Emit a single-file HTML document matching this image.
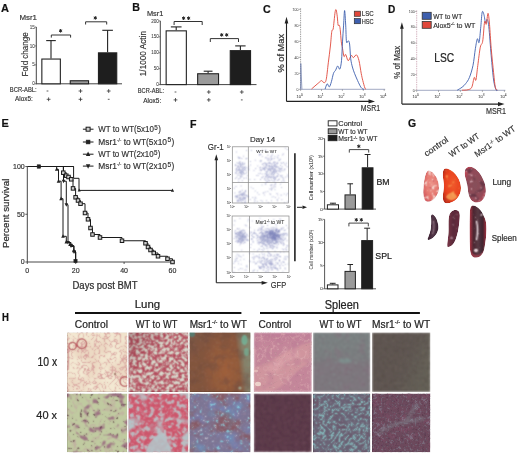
<!DOCTYPE html>
<html><head><meta charset="utf-8"><style>
html,body{margin:0;padding:0;background:#fff;}
svg{display:block;will-change:transform;}
text{font-family:"Liberation Sans", sans-serif;stroke:#2a2a2a;stroke-linejoin:round;}
</style></head><body>
<svg width="520" height="454" viewBox="0 0 520 454">
<defs><filter id="dotblur" x="-5%" y="-5%" width="110%" height="110%"><feConvolveMatrix order="3" kernelMatrix="1 2 1 2 5 2 1 2 1" edgeMode="none"/></filter>
<radialGradient id="lc" cx="0.55" cy="0.45" r="0.65"><stop offset="0" stop-color="#ec948a"/><stop offset="0.6" stop-color="#e4766e"/><stop offset="1" stop-color="#d45a60"/></radialGradient>
<radialGradient id="lw" cx="0.55" cy="0.45" r="0.65"><stop offset="0" stop-color="#f05a2c"/><stop offset="0.7" stop-color="#e8401e"/><stop offset="1" stop-color="#b82a1a"/></radialGradient>
<radialGradient id="lm" cx="0.5" cy="0.5" r="0.6"><stop offset="0" stop-color="#86505a"/><stop offset="0.7" stop-color="#924a58"/><stop offset="1" stop-color="#c84656"/></radialGradient>
<linearGradient id="sc" x1="0" y1="0" x2="1" y2="0"><stop offset="0" stop-color="#3a1e2e"/><stop offset="0.5" stop-color="#54384a"/><stop offset="1" stop-color="#3a2030"/></linearGradient>
<linearGradient id="sw" x1="0" y1="0" x2="1" y2="0"><stop offset="0" stop-color="#7a3446"/><stop offset="0.5" stop-color="#5a2a3a"/><stop offset="1" stop-color="#6a2c3e"/></linearGradient>
<linearGradient id="sm" x1="0" y1="0" x2="1" y2="0"><stop offset="0" stop-color="#b03545"/><stop offset="0.22" stop-color="#4a2530"/><stop offset="0.5" stop-color="#5a3a45"/><stop offset="0.78" stop-color="#3e2530"/><stop offset="1" stop-color="#a83040"/></linearGradient>
<clipPath id="og1"><path d="M428.5,170.5 C434,171 439.5,180 439,188 C438.5,196 433,201.5 428,201.8 C424,202 423,196 423.3,190 C423.6,183 425,171 428.5,170.5 Z"/></clipPath><filter id="b1" x="-5%" y="-5%" width="110%" height="110%"><feConvolveMatrix order="3" kernelMatrix="0.800 1.600 0.800 1.600 6.400 1.600 0.800 1.600 0.800" edgeMode="duplicate" preserveAlpha="true"/></filter><filter id="n2" x="0" y="0" width="1" height="1" filterUnits="objectBoundingBox" color-interpolation-filters="sRGB"><feTurbulence type="fractalNoise" baseFrequency="0.25" numOctaves="2" seed="201" result="t"/><feColorMatrix in="t" type="matrix" values="0 0 0 0 0.973 0 0 0 0 0.878 0 0 0 0 0.847 7 0 0 0 -3.9"/></filter><filter id="n3" x="0" y="0" width="1" height="1" filterUnits="objectBoundingBox" color-interpolation-filters="sRGB"><feTurbulence type="fractalNoise" baseFrequency="0.3" numOctaves="2" seed="202" result="t"/><feColorMatrix in="t" type="matrix" values="0 0 0 0 0.753 0 0 0 0 0.282 0 0 0 0 0.345 8 0 0 0 -5.2"/></filter><clipPath id="og2"><path d="M445.5,168.6 C452,168.3 461,178 461,188 C461,197 454,203.5 446.5,203.2 C443,203 442.6,199 443,194 C443.5,190 444.5,186 443.3,180 C442.5,174 442.5,169 445.5,168.6 Z"/></clipPath><filter id="b4" x="-5%" y="-5%" width="110%" height="110%"><feConvolveMatrix order="3" kernelMatrix="0.800 1.600 0.800 1.600 6.400 1.600 0.800 1.600 0.800" edgeMode="duplicate" preserveAlpha="true"/></filter><filter id="n5" x="0" y="0" width="1" height="1" filterUnits="objectBoundingBox" color-interpolation-filters="sRGB"><feTurbulence type="fractalNoise" baseFrequency="0.18" numOctaves="2" seed="211" result="t"/><feColorMatrix in="t" type="matrix" values="0 0 0 0 0.973 0 0 0 0 0.627 0 0 0 0 0.314 6 0 0 0 -3.6"/></filter><clipPath id="og3"><path d="M468,167 C474,165.5 480,172 483.5,180 C487,188 487,197 481,201.5 C476,204 471,202 469,196 C467.5,191 468,186 466,180 C464,174 464,168.5 468,167 Z"/></clipPath><filter id="b6" x="-5%" y="-5%" width="110%" height="110%"><feConvolveMatrix order="3" kernelMatrix="0.800 1.600 0.800 1.600 6.400 1.600 0.800 1.600 0.800" edgeMode="duplicate" preserveAlpha="true"/></filter><filter id="n7" x="0" y="0" width="1" height="1" filterUnits="objectBoundingBox" color-interpolation-filters="sRGB"><feTurbulence type="fractalNoise" baseFrequency="0.15" numOctaves="2" seed="221" result="t"/><feColorMatrix in="t" type="matrix" values="0 0 0 0 0.353 0 0 0 0 0.188 0 0 0 0 0.251 6 0 0 0 -3.3"/></filter><filter id="n8" x="0" y="0" width="1" height="1" filterUnits="objectBoundingBox" color-interpolation-filters="sRGB"><feTurbulence type="fractalNoise" baseFrequency="0.3" numOctaves="2" seed="222" result="t"/><feColorMatrix in="t" type="matrix" values="0 0 0 0 0.878 0 0 0 0 0.722 0 0 0 0 0.753 8 0 0 0 -5.4"/></filter><clipPath id="os1"><path d="M432.5,214.2 C436.5,216 438.8,223 438.2,229 C437.5,235 432,239.5 428.3,240 C427,239 428.8,236 430,232 C431.5,227 431.2,220 431,216.5 C431,215 431.5,214.2 432.5,214.2 Z"/></clipPath><filter id="b9" x="-5%" y="-5%" width="110%" height="110%"><feConvolveMatrix order="3" kernelMatrix="0.800 1.600 0.800 1.600 6.400 1.600 0.800 1.600 0.800" edgeMode="duplicate" preserveAlpha="true"/></filter><clipPath id="os2"><path d="M455.5,210 C458.5,210 460,212 459.8,216 C459.5,224 458,234 455.5,240 C453.5,245 450,247.5 447.5,247 C446.5,245 448.5,238 448.5,230 C448.5,222 448,215 451,212 C452.5,210.6 454,210 455.5,210 Z"/></clipPath><filter id="b10" x="-5%" y="-5%" width="110%" height="110%"><feConvolveMatrix order="3" kernelMatrix="0.800 1.600 0.800 1.600 6.400 1.600 0.800 1.600 0.800" edgeMode="duplicate" preserveAlpha="true"/></filter><filter id="n11" x="0" y="0" width="1" height="1" filterUnits="objectBoundingBox" color-interpolation-filters="sRGB"><feTurbulence type="fractalNoise" baseFrequency="0.3" numOctaves="2" seed="231" result="t"/><feColorMatrix in="t" type="matrix" values="0 0 0 0 0.690 0 0 0 0 0.533 0 0 0 0 0.596 8 0 0 0 -5.4"/></filter><clipPath id="os3"><path d="M473,205.6 C478,205.6 483,212 485.5,220 C487.5,227 486,240 484.5,248 C483.5,254 480,257.6 476,257.6 C471.5,257.6 470,254 469.8,246 C469.5,236 469.5,222 469.8,213 C470,208 471,205.6 473,205.6 Z"/></clipPath><filter id="b12" x="-5%" y="-5%" width="110%" height="110%"><feConvolveMatrix order="3" kernelMatrix="0.800 1.600 0.800 1.600 6.400 1.600 0.800 1.600 0.800" edgeMode="duplicate" preserveAlpha="true"/></filter><filter id="n13" x="0" y="0" width="1" height="1" filterUnits="objectBoundingBox" color-interpolation-filters="sRGB"><feTurbulence type="fractalNoise" baseFrequency="0.3" numOctaves="2" seed="241" result="t"/><feColorMatrix in="t" type="matrix" values="0 0 0 0 0.847 0 0 0 0 0.753 0 0 0 0 0.784 8 0 0 0 -5.6"/></filter><clipPath id="c14"><rect x="67.0" y="332.4" width="60.20" height="59.60"/></clipPath><filter id="b15" x="-5%" y="-5%" width="110%" height="110%"><feConvolveMatrix order="3" kernelMatrix="0.800 1.600 0.800 1.600 6.400 1.600 0.800 1.600 0.800" edgeMode="duplicate" preserveAlpha="true"/></filter><filter id="n16" x="0" y="0" width="1" height="1" filterUnits="objectBoundingBox" color-interpolation-filters="sRGB"><feTurbulence type="fractalNoise" baseFrequency="0.05" numOctaves="2" seed="2" result="t"/><feColorMatrix in="t" type="matrix" values="0 0 0 0 0.902 0 0 0 0 0.800 0 0 0 0 0.714 4 0 0 0 -1.6"/></filter><filter id="n17" x="0" y="0" width="1" height="1" filterUnits="objectBoundingBox" color-interpolation-filters="sRGB"><feTurbulence type="turbulence" baseFrequency="0.19" numOctaves="1" seed="3" result="t"/><feColorMatrix in="t" type="matrix" values="0 0 0 0 0.831 0 0 0 0 0.588 0 0 0 0 0.588 -11 0 0 0 1.0"/></filter><clipPath id="c18"><rect x="128.4" y="332.4" width="60.00" height="59.60"/></clipPath><filter id="b19" x="-5%" y="-5%" width="110%" height="110%"><feConvolveMatrix order="3" kernelMatrix="0.867 1.733 0.867 1.733 5.600 1.733 0.867 1.733 0.867" edgeMode="duplicate" preserveAlpha="true"/></filter><filter id="n20" x="0" y="0" width="1" height="1" filterUnits="objectBoundingBox" color-interpolation-filters="sRGB"><feTurbulence type="fractalNoise" baseFrequency="0.33" numOctaves="2" seed="5" result="t"/><feColorMatrix in="t" type="matrix" values="0 0 0 0 0.847 0 0 0 0 0.863 0 0 0 0 0.812 5 0 0 0 -2.2"/></filter><filter id="n21" x="0" y="0" width="1" height="1" filterUnits="objectBoundingBox" color-interpolation-filters="sRGB"><feTurbulence type="fractalNoise" baseFrequency="0.5" numOctaves="2" seed="6" result="t"/><feColorMatrix in="t" type="matrix" values="0 0 0 0 0.910 0 0 0 0 0.784 0 0 0 0 0.784 6 0 0 0 -3.4"/></filter><linearGradient id="g_lw10" x1="0" y1="0" x2="1" y2="1"><stop offset="0" stop-color="#6a2a34" stop-opacity="0.35"/><stop offset="0.4" stop-color="#6a2a34" stop-opacity="0"/><stop offset="1" stop-color="#6a2a34" stop-opacity="0.0"/></linearGradient><clipPath id="c22"><rect x="189.5" y="332.4" width="61.00" height="59.60"/></clipPath><filter id="b23" x="-5%" y="-5%" width="110%" height="110%"><feConvolveMatrix order="3" kernelMatrix="0.933 1.867 0.933 1.867 4.800 1.867 0.933 1.867 0.933" edgeMode="duplicate" preserveAlpha="true"/></filter><radialGradient id="g_lm10o" cx="0.58" cy="0.6" r="0.55" fx="0.6" fy="0.65" gradientTransform="translate(0.58 0.6) scale(0.7 1.2) translate(-0.58 -0.6)"><stop offset="0" stop-color="#a8623a" stop-opacity="0.75"/><stop offset="0.6" stop-color="#a06038" stop-opacity="0.5"/><stop offset="1" stop-color="#a06038" stop-opacity="0"/></radialGradient><linearGradient id="g_lm10r" x1="0" y1="0.12" x2="1" y2="0"><stop offset="0" stop-color="#80907c" stop-opacity="0"/><stop offset="0.74" stop-color="#80907c" stop-opacity="0.0"/><stop offset="0.84" stop-color="#84947e" stop-opacity="0.7"/><stop offset="1" stop-color="#86987e" stop-opacity="0.85"/></linearGradient><linearGradient id="g_lm10t" x1="0" y1="0" x2="0.6" y2="0.6"><stop offset="0" stop-color="#6e5a50" stop-opacity="0.45"/><stop offset="0.4" stop-color="#6e5a50" stop-opacity="0.0"/><stop offset="1" stop-color="#6e5a50" stop-opacity="0"/></linearGradient><filter id="n24" x="0" y="0" width="1" height="1" filterUnits="objectBoundingBox" color-interpolation-filters="sRGB"><feTurbulence type="fractalNoise" baseFrequency="0.1" numOctaves="3" seed="12" result="t"/><feColorMatrix in="t" type="matrix" values="0 0 0 0 0.416 0 0 0 0 0.290 0 0 0 0 0.251 4 0 0 0 -1.8"/></filter><filter id="n25" x="0" y="0" width="1" height="1" filterUnits="objectBoundingBox" color-interpolation-filters="sRGB"><feTurbulence type="fractalNoise" baseFrequency="0.45" numOctaves="2" seed="14" result="t"/><feColorMatrix in="t" type="matrix" values="0 0 0 0 0.604 0 0 0 0 0.439 0 0 0 0 0.345 5 0 0 0 -2.8"/></filter><clipPath id="c26"><rect x="67.0" y="393.6" width="60.20" height="58.60"/></clipPath><filter id="b27" x="-5%" y="-5%" width="110%" height="110%"><feConvolveMatrix order="3" kernelMatrix="0.800 1.600 0.800 1.600 6.400 1.600 0.800 1.600 0.800" edgeMode="duplicate" preserveAlpha="true"/></filter><filter id="n28" x="0" y="0" width="1" height="1" filterUnits="objectBoundingBox" color-interpolation-filters="sRGB"><feTurbulence type="turbulence" baseFrequency="0.0800" numOctaves="1" seed="21" result="t1"/><feTurbulence type="turbulence" baseFrequency="0.1294" numOctaves="1" seed="28" result="t2"/><feComposite in="t1" in2="t2" operator="arithmetic" k1="0" k2="0.6" k3="0.4" k4="0" result="t"/><feColorMatrix in="t" type="matrix" values="0 0 0 0 0.753 0 0 0 0 0.627 0 0 0 0 0.627 -8 0 0 0 0.9"/></filter><filter id="n29" x="0" y="0" width="1" height="1" filterUnits="objectBoundingBox" color-interpolation-filters="sRGB"><feTurbulence type="fractalNoise" baseFrequency="0.12" numOctaves="2" seed="25" result="t"/><feColorMatrix in="t" type="matrix" values="0 0 0 0 0.604 0 0 0 0 0.424 0 0 0 0 0.502 7 0 0 0 -4.0"/></filter><filter id="n30" x="0" y="0" width="1" height="1" filterUnits="objectBoundingBox" color-interpolation-filters="sRGB"><feTurbulence type="fractalNoise" baseFrequency="0.3" numOctaves="2" seed="23" result="t"/><feColorMatrix in="t" type="matrix" values="0 0 0 0 0.353 0 0 0 0 0.125 0 0 0 0 0.251 12 0 0 0 -8.2"/></filter><clipPath id="c31"><rect x="128.4" y="393.6" width="60.00" height="58.60"/></clipPath><filter id="b32" x="-5%" y="-5%" width="110%" height="110%"><feConvolveMatrix order="3" kernelMatrix="0.800 1.600 0.800 1.600 6.400 1.600 0.800 1.600 0.800" edgeMode="duplicate" preserveAlpha="true"/></filter><filter id="n33" x="0" y="0" width="1" height="1" filterUnits="objectBoundingBox" color-interpolation-filters="sRGB"><feTurbulence type="fractalNoise" baseFrequency="0.06" numOctaves="3" seed="31" result="t"/><feColorMatrix in="t" type="matrix" values="0 0 0 0 0.706 0 0 0 0 0.761 0 0 0 0 0.776 6 0 0 0 -3.3"/></filter><filter id="n34" x="0" y="0" width="1" height="1" filterUnits="objectBoundingBox" color-interpolation-filters="sRGB"><feTurbulence type="fractalNoise" baseFrequency="0.22" numOctaves="2" seed="34" result="t"/><feColorMatrix in="t" type="matrix" values="0 0 0 0 0.722 0 0 0 0 0.769 0 0 0 0 0.784 6 0 0 0 -3.0"/></filter><filter id="n35" x="0" y="0" width="1" height="1" filterUnits="objectBoundingBox" color-interpolation-filters="sRGB"><feTurbulence type="fractalNoise" baseFrequency="0.4" numOctaves="2" seed="32" result="t"/><feColorMatrix in="t" type="matrix" values="0 0 0 0 0.878 0 0 0 0 0.565 0 0 0 0 0.627 6 0 0 0 -3.2"/></filter><clipPath id="c36"><rect x="189.5" y="393.6" width="61.00" height="58.60"/></clipPath><filter id="b37" x="-5%" y="-5%" width="110%" height="110%"><feConvolveMatrix order="3" kernelMatrix="0.800 1.600 0.800 1.600 6.400 1.600 0.800 1.600 0.800" edgeMode="duplicate" preserveAlpha="true"/></filter><filter id="n38" x="0" y="0" width="1" height="1" filterUnits="objectBoundingBox" color-interpolation-filters="sRGB"><feTurbulence type="fractalNoise" baseFrequency="0.06" numOctaves="3" seed="43" result="t"/><feColorMatrix in="t" type="matrix" values="0 0 0 0 0.541 0 0 0 0 0.322 0 0 0 0 0.337 5 0 0 0 -2.3"/></filter><filter id="n39" x="0" y="0" width="1" height="1" filterUnits="objectBoundingBox" color-interpolation-filters="sRGB"><feTurbulence type="fractalNoise" baseFrequency="0.07" numOctaves="3" seed="44" result="t"/><feColorMatrix in="t" type="matrix" values="0 0 0 0 0.455 0 0 0 0 0.518 0 0 0 0 0.737 5 0 0 0 -2.6"/></filter><filter id="n40" x="0" y="0" width="1" height="1" filterUnits="objectBoundingBox" color-interpolation-filters="sRGB"><feTurbulence type="fractalNoise" baseFrequency="0.45" numOctaves="2" seed="46" result="t"/><feColorMatrix in="t" type="matrix" values="0 0 0 0 0.604 0 0 0 0 0.541 0 0 0 0 0.627 5 0 0 0 -2.6"/></filter><filter id="n41" x="0" y="0" width="1" height="1" filterUnits="objectBoundingBox" color-interpolation-filters="sRGB"><feTurbulence type="fractalNoise" baseFrequency="0.05" numOctaves="2" seed="49" result="t"/><feColorMatrix in="t" type="matrix" values="0 0 0 0 0.376 0 0 0 0 0.659 0 0 0 0 0.784 6 0 0 0 -3.6"/></filter><filter id="n42" x="0" y="0" width="1" height="1" filterUnits="objectBoundingBox" color-interpolation-filters="sRGB"><feTurbulence type="fractalNoise" baseFrequency="0.3" numOctaves="2" seed="47" result="t"/><feColorMatrix in="t" type="matrix" values="0 0 0 0 0.541 0 0 0 0 0.831 0 0 0 0 0.894 9 0 0 0 -5.9"/></filter><filter id="n43" x="0" y="0" width="1" height="1" filterUnits="objectBoundingBox" color-interpolation-filters="sRGB"><feTurbulence type="fractalNoise" baseFrequency="0.4" numOctaves="2" seed="48" result="t"/><feColorMatrix in="t" type="matrix" values="0 0 0 0 0.878 0 0 0 0 0.894 0 0 0 0 0.933 10 0 0 0 -7.0"/></filter><clipPath id="c44"><rect x="253.8" y="332.4" width="58.00" height="59.60"/></clipPath><filter id="b45" x="-5%" y="-5%" width="110%" height="110%"><feGaussianBlur stdDeviation="1.2"/></filter><linearGradient id="g_sc10b" x1="0.5" y1="0" x2="0.5" y2="0.5"><stop offset="0" stop-color="#b87494" stop-opacity="0.5"/><stop offset="0.4" stop-color="#b87494" stop-opacity="0.0"/><stop offset="1" stop-color="#b87494" stop-opacity="0.0"/></linearGradient><filter id="n46" x="0" y="0" width="1" height="1" filterUnits="objectBoundingBox" color-interpolation-filters="sRGB"><feTurbulence type="fractalNoise" baseFrequency="0.12" numOctaves="3" seed="51" result="t"/><feColorMatrix in="t" type="matrix" values="0 0 0 0 0.722 0 0 0 0 0.471 0 0 0 0 0.588 5 0 0 0 -2.6"/></filter><filter id="b47" x="-5%" y="-5%" width="110%" height="110%"><feConvolveMatrix order="3" kernelMatrix="0.800 1.600 0.800 1.600 6.400 1.600 0.800 1.600 0.800" edgeMode="duplicate" preserveAlpha="true"/></filter><filter id="n48" x="0" y="0" width="1" height="1" filterUnits="objectBoundingBox" color-interpolation-filters="sRGB"><feTurbulence type="fractalNoise" baseFrequency="0.3" numOctaves="2" seed="52" result="t"/><feColorMatrix in="t" type="matrix" values="0 0 0 0 0.878 0 0 0 0 0.690 0 0 0 0 0.706 7 0 0 0 -4.0"/></filter><filter id="n49" x="0" y="0" width="1" height="1" filterUnits="objectBoundingBox" color-interpolation-filters="sRGB"><feTurbulence type="turbulence" baseFrequency="0.12" numOctaves="1" seed="53" result="t"/><feColorMatrix in="t" type="matrix" values="0 0 0 0 0.894 0 0 0 0 0.706 0 0 0 0 0.722 -10 0 0 0 0.8"/></filter><clipPath id="c50"><rect x="313.0" y="332.4" width="57.30" height="59.60"/></clipPath><filter id="b51" x="-5%" y="-5%" width="110%" height="110%"><feGaussianBlur stdDeviation="0.9"/></filter><linearGradient id="g_sw10" x1="0" y1="0" x2="0" y2="1"><stop offset="0" stop-color="#7c8886" stop-opacity="0.6"/><stop offset="0.4" stop-color="#7c8886" stop-opacity="0.3"/><stop offset="0.55" stop-color="#86707e" stop-opacity="0.35"/><stop offset="1" stop-color="#86707e" stop-opacity="0.2"/></linearGradient><filter id="n52" x="0" y="0" width="1" height="1" filterUnits="objectBoundingBox" color-interpolation-filters="sRGB"><feTurbulence type="fractalNoise" baseFrequency="0.12" numOctaves="3" seed="61" result="t"/><feColorMatrix in="t" type="matrix" values="0 0 0 0 0.525 0 0 0 0 0.439 0 0 0 0 0.494 5 0 0 0 -2.6"/></filter><filter id="n53" x="0" y="0" width="1" height="1" filterUnits="objectBoundingBox" color-interpolation-filters="sRGB"><feTurbulence type="fractalNoise" baseFrequency="0.45" numOctaves="2" seed="63" result="t"/><feColorMatrix in="t" type="matrix" values="0 0 0 0 0.541 0 0 0 0 0.659 0 0 0 0 0.627 7 0 0 0 -4.4"/></filter><filter id="n54" x="0" y="0" width="1" height="1" filterUnits="objectBoundingBox" color-interpolation-filters="sRGB"><feTurbulence type="fractalNoise" baseFrequency="0.5" numOctaves="2" seed="64" result="t"/><feColorMatrix in="t" type="matrix" values="0 0 0 0 0.416 0 0 0 0 0.392 0 0 0 0 0.408 5 0 0 0 -2.5"/></filter><clipPath id="c55"><rect x="372.0" y="332.4" width="58.30" height="59.60"/></clipPath><filter id="b56" x="-5%" y="-5%" width="110%" height="110%"><feGaussianBlur stdDeviation="0.9"/></filter><linearGradient id="g_sm10" x1="0" y1="0.1" x2="1" y2="0.5"><stop offset="0" stop-color="#6a6a5c" stop-opacity="0"/><stop offset="0.55" stop-color="#6a6a5c" stop-opacity="0.0"/><stop offset="1" stop-color="#6a6a5c" stop-opacity="0.55"/></linearGradient><filter id="n57" x="0" y="0" width="1" height="1" filterUnits="objectBoundingBox" color-interpolation-filters="sRGB"><feTurbulence type="fractalNoise" baseFrequency="0.4" numOctaves="2" seed="71" result="t"/><feColorMatrix in="t" type="matrix" values="0 0 0 0 0.447 0 0 0 0 0.412 0 0 0 0 0.369 6 0 0 0 -3.2"/></filter><filter id="n58" x="0" y="0" width="1" height="1" filterUnits="objectBoundingBox" color-interpolation-filters="sRGB"><feTurbulence type="fractalNoise" baseFrequency="0.4" numOctaves="2" seed="73" result="t"/><feColorMatrix in="t" type="matrix" values="0 0 0 0 0.298 0 0 0 0 0.267 0 0 0 0 0.251 5 0 0 0 -2.5"/></filter><clipPath id="c59"><rect x="253.8" y="393.6" width="58.00" height="58.60"/></clipPath><filter id="b60" x="-5%" y="-5%" width="110%" height="110%"><feGaussianBlur stdDeviation="0.8"/></filter><filter id="n61" x="0" y="0" width="1" height="1" filterUnits="objectBoundingBox" color-interpolation-filters="sRGB"><feTurbulence type="fractalNoise" baseFrequency="0.45" numOctaves="2" seed="81" result="t"/><feColorMatrix in="t" type="matrix" values="0 0 0 0 0.463 0 0 0 0 0.314 0 0 0 0 0.369 6 0 0 0 -3.1"/></filter><filter id="n62" x="0" y="0" width="1" height="1" filterUnits="objectBoundingBox" color-interpolation-filters="sRGB"><feTurbulence type="fractalNoise" baseFrequency="0.45" numOctaves="2" seed="82" result="t"/><feColorMatrix in="t" type="matrix" values="0 0 0 0 0.267 0 0 0 0 0.149 0 0 0 0 0.227 6 0 0 0 -3.1"/></filter><clipPath id="c63"><rect x="313.0" y="393.6" width="57.30" height="58.60"/></clipPath><filter id="b64" x="-5%" y="-5%" width="110%" height="110%"><feConvolveMatrix order="3" kernelMatrix="0.800 1.600 0.800 1.600 6.400 1.600 0.800 1.600 0.800" edgeMode="duplicate" preserveAlpha="true"/></filter><filter id="n65" x="0" y="0" width="1" height="1" filterUnits="objectBoundingBox" color-interpolation-filters="sRGB"><feTurbulence type="fractalNoise" baseFrequency="0.1" numOctaves="2" seed="93" result="t"/><feColorMatrix in="t" type="matrix" values="0 0 0 0 0.431 0 0 0 0 0.298 0 0 0 0 0.384 5 0 0 0 -2.6"/></filter><filter id="n66" x="0" y="0" width="1" height="1" filterUnits="objectBoundingBox" color-interpolation-filters="sRGB"><feTurbulence type="turbulence" baseFrequency="0.2000" numOctaves="1" seed="91" result="t1"/><feTurbulence type="turbulence" baseFrequency="0.3236" numOctaves="1" seed="98" result="t2"/><feComposite in="t1" in2="t2" operator="arithmetic" k1="0" k2="0.6" k3="0.4" k4="0" result="t"/><feColorMatrix in="t" type="matrix" values="0 0 0 0 0.549 0 0 0 0 0.816 0 0 0 0 0.816 -11 0 0 0 1.35"/></filter><filter id="n67" x="0" y="0" width="1" height="1" filterUnits="objectBoundingBox" color-interpolation-filters="sRGB"><feTurbulence type="fractalNoise" baseFrequency="0.5" numOctaves="2" seed="94" result="t"/><feColorMatrix in="t" type="matrix" values="0 0 0 0 0.541 0 0 0 0 0.541 0 0 0 0 0.604 6 0 0 0 -3.3"/></filter><clipPath id="c68"><rect x="372.0" y="393.6" width="58.30" height="58.60"/></clipPath><filter id="b69" x="-5%" y="-5%" width="110%" height="110%"><feConvolveMatrix order="3" kernelMatrix="0.800 1.600 0.800 1.600 6.400 1.600 0.800 1.600 0.800" edgeMode="duplicate" preserveAlpha="true"/></filter><filter id="n70" x="0" y="0" width="1" height="1" filterUnits="objectBoundingBox" color-interpolation-filters="sRGB"><feTurbulence type="fractalNoise" baseFrequency="0.15" numOctaves="2" seed="101" result="t"/><feColorMatrix in="t" type="matrix" values="0 0 0 0 0.525 0 0 0 0 0.314 0 0 0 0 0.416 5 0 0 0 -2.6"/></filter><filter id="b71" x="-5%" y="-5%" width="110%" height="110%"><feGaussianBlur stdDeviation="1.6"/></filter><filter id="b72" x="-5%" y="-5%" width="110%" height="110%"><feConvolveMatrix order="3" kernelMatrix="0.800 1.600 0.800 1.600 6.400 1.600 0.800 1.600 0.800" edgeMode="duplicate" preserveAlpha="true"/></filter><filter id="n73" x="0" y="0" width="1" height="1" filterUnits="objectBoundingBox" color-interpolation-filters="sRGB"><feTurbulence type="turbulence" baseFrequency="0.2200" numOctaves="1" seed="103" result="t1"/><feTurbulence type="turbulence" baseFrequency="0.3560" numOctaves="1" seed="110" result="t2"/><feComposite in="t1" in2="t2" operator="arithmetic" k1="0" k2="0.6" k3="0.4" k4="0" result="t"/><feColorMatrix in="t" type="matrix" values="0 0 0 0 0.604 0 0 0 0 0.627 0 0 0 0 0.690 -12 0 0 0 1.35"/></filter><filter id="n74" x="0" y="0" width="1" height="1" filterUnits="objectBoundingBox" color-interpolation-filters="sRGB"><feTurbulence type="fractalNoise" baseFrequency="0.45" numOctaves="2" seed="104" result="t"/><feColorMatrix in="t" type="matrix" values="0 0 0 0 0.337 0 0 0 0 0.204 0 0 0 0 0.290 5 0 0 0 -2.6"/></filter></defs>
<rect width="520" height="454" fill="#fff"/>
<text x="1.00" y="11.50" font-size="11.20" font-weight="bold" fill="#111" textLength="8.00" lengthAdjust="spacingAndGlyphs"  style="stroke-width:0.24px">A</text>
<text x="19.40" y="20.00" font-size="7.80" font-weight="normal" fill="#333" textLength="17.60" lengthAdjust="spacingAndGlyphs"  style="stroke-width:0.16px">Msr1</text>
<line x1="36.30" y1="27.00" x2="36.30" y2="84.30" stroke="#444" stroke-width="1.0" />
<line x1="34.80" y1="83.80" x2="36.30" y2="83.80" stroke="#444" stroke-width="0.7" />
<text x="34.80" y="85.40" font-size="4.60" fill="#444" text-anchor="end" style="stroke-width:0.05px">0</text>
<line x1="34.80" y1="64.87" x2="36.30" y2="64.87" stroke="#444" stroke-width="0.7" />
<text x="34.80" y="66.47" font-size="4.60" fill="#444" text-anchor="end" style="stroke-width:0.05px">5</text>
<line x1="34.80" y1="45.93" x2="36.30" y2="45.93" stroke="#444" stroke-width="0.7" />
<text x="34.80" y="47.53" font-size="4.60" fill="#444" text-anchor="end" style="stroke-width:0.05px">10</text>
<line x1="34.80" y1="27.00" x2="36.30" y2="27.00" stroke="#444" stroke-width="0.7" />
<text x="34.80" y="28.60" font-size="4.60" fill="#444" text-anchor="end" style="stroke-width:0.05px">15</text>
<text transform="translate(27.60,76.50) rotate(-90)" x="0" y="0" font-size="8.90" fill="#333" textLength="44.20" lengthAdjust="spacingAndGlyphs" style="stroke-width:0.16px">Fold change</text>
<line x1="36.30" y1="83.80" x2="122.00" y2="83.80" stroke="#444" stroke-width="1.0" />
<line x1="51.00" y1="58.50" x2="51.00" y2="40.60" stroke="#222" stroke-width="1.1" />
<line x1="46.20" y1="40.60" x2="55.80" y2="40.60" stroke="#222" stroke-width="1.1" />
<rect x="41.85" y="59.05" width="18.50" height="24.75" fill="#fff" stroke="#222" stroke-width="1.1" />
<rect x="70.25" y="80.75" width="18.30" height="3.05" fill="#9a9a9a" stroke="#222" stroke-width="1.1" />
<line x1="107.60" y1="52.30" x2="107.60" y2="30.30" stroke="#222" stroke-width="1.1" />
<line x1="102.30" y1="30.30" x2="112.90" y2="30.30" stroke="#222" stroke-width="1.1" />
<rect x="98.45" y="52.85" width="18.30" height="30.95" fill="#1e1e1e" stroke="#222" stroke-width="1.1" />
<polyline points="51.30,37.60 51.30,35.00 70.60,35.00 70.60,37.60" fill="none" stroke="#333" stroke-width="1.0" stroke-linejoin="round" />
<line x1="60.60" y1="29.00" x2="60.60" y2="32.60" stroke="#222" stroke-width="1.0" />
<line x1="59.04" y1="29.90" x2="62.16" y2="31.70" stroke="#222" stroke-width="1.0" />
<line x1="62.16" y1="29.90" x2="59.04" y2="31.70" stroke="#222" stroke-width="1.0" />
<polyline points="85.60,24.50 85.60,21.80 106.70,21.80 106.70,24.50" fill="none" stroke="#333" stroke-width="1.0" stroke-linejoin="round" />
<line x1="95.30" y1="16.10" x2="95.30" y2="19.70" stroke="#222" stroke-width="1.0" />
<line x1="93.74" y1="17.00" x2="96.86" y2="18.80" stroke="#222" stroke-width="1.0" />
<line x1="96.86" y1="17.00" x2="93.74" y2="18.80" stroke="#222" stroke-width="1.0" />
<text x="9.80" y="92.10" font-size="7.00" font-weight="normal" fill="#333" textLength="26.90" lengthAdjust="spacingAndGlyphs"  style="stroke-width:0.16px">BCR-ABL:</text>
<text x="15.10" y="101.20" font-size="7.00" font-weight="normal" fill="#333" textLength="17.80" lengthAdjust="spacingAndGlyphs"  style="stroke-width:0.16px">Alox5:</text>
<line x1="46.60" y1="91.00" x2="48.40" y2="91.00" stroke="#333" stroke-width="0.8" />
<line x1="78.60" y1="91.00" x2="82.40" y2="91.00" stroke="#333" stroke-width="0.8" />
<line x1="80.50" y1="89.10" x2="80.50" y2="92.90" stroke="#333" stroke-width="0.8" />
<line x1="106.80" y1="91.00" x2="110.60" y2="91.00" stroke="#333" stroke-width="0.8" />
<line x1="108.70" y1="89.10" x2="108.70" y2="92.90" stroke="#333" stroke-width="0.8" />
<line x1="46.70" y1="99.30" x2="50.50" y2="99.30" stroke="#333" stroke-width="0.8" />
<line x1="48.60" y1="97.40" x2="48.60" y2="101.20" stroke="#333" stroke-width="0.8" />
<line x1="78.60" y1="99.30" x2="82.40" y2="99.30" stroke="#333" stroke-width="0.8" />
<line x1="80.50" y1="97.40" x2="80.50" y2="101.20" stroke="#333" stroke-width="0.8" />
<line x1="107.80" y1="99.30" x2="109.60" y2="99.30" stroke="#333" stroke-width="0.8" />
<text x="132.20" y="11.30" font-size="11.50" font-weight="bold" fill="#111" textLength="7.70" lengthAdjust="spacingAndGlyphs"  style="stroke-width:0.24px">B</text>
<text x="146.90" y="15.60" font-size="8.00" font-weight="normal" fill="#333" textLength="16.40" lengthAdjust="spacingAndGlyphs"  style="stroke-width:0.16px">Msr1</text>
<line x1="160.30" y1="20.90" x2="160.30" y2="85.10" stroke="#444" stroke-width="1.0" />
<line x1="158.80" y1="84.60" x2="160.30" y2="84.60" stroke="#444" stroke-width="0.7" />
<text x="158.80" y="86.20" font-size="4.60" fill="#444" text-anchor="end" style="stroke-width:0.05px">0</text>
<line x1="158.80" y1="68.67" x2="160.30" y2="68.67" stroke="#444" stroke-width="0.7" />
<text x="158.80" y="70.27" font-size="4.60" fill="#444" text-anchor="end" style="stroke-width:0.05px">50</text>
<line x1="158.80" y1="52.75" x2="160.30" y2="52.75" stroke="#444" stroke-width="0.7" />
<text x="158.80" y="54.35" font-size="4.60" fill="#444" text-anchor="end" style="stroke-width:0.05px">100</text>
<line x1="158.80" y1="36.82" x2="160.30" y2="36.82" stroke="#444" stroke-width="0.7" />
<text x="158.80" y="38.42" font-size="4.60" fill="#444" text-anchor="end" style="stroke-width:0.05px">150</text>
<line x1="158.80" y1="20.90" x2="160.30" y2="20.90" stroke="#444" stroke-width="0.7" />
<text x="158.80" y="22.50" font-size="4.60" fill="#444" text-anchor="end" style="stroke-width:0.05px">200</text>
<text transform="translate(145.60,76.20) rotate(-90)" x="0" y="0" font-size="8.60" fill="#333" textLength="45.20" lengthAdjust="spacingAndGlyphs" style="stroke-width:0.16px">1/1000 Actin</text>
<line x1="160.30" y1="84.60" x2="256.50" y2="84.60" stroke="#444" stroke-width="1.0" />
<line x1="176.20" y1="30.30" x2="176.20" y2="26.90" stroke="#222" stroke-width="1.1" />
<line x1="170.85" y1="26.90" x2="181.55" y2="26.90" stroke="#222" stroke-width="1.1" />
<rect x="166.15" y="30.85" width="20.20" height="53.75" fill="#fff" stroke="#222" stroke-width="1.1" />
<line x1="208.10" y1="73.20" x2="208.10" y2="71.20" stroke="#222" stroke-width="1.1" />
<line x1="203.70" y1="71.20" x2="212.50" y2="71.20" stroke="#222" stroke-width="1.1" />
<rect x="197.65" y="73.75" width="20.90" height="10.85" fill="#9a9a9a" stroke="#222" stroke-width="1.1" />
<line x1="240.40" y1="50.10" x2="240.40" y2="45.90" stroke="#222" stroke-width="1.1" />
<line x1="235.20" y1="45.90" x2="245.60" y2="45.90" stroke="#222" stroke-width="1.1" />
<rect x="230.25" y="50.65" width="20.30" height="33.95" fill="#1e1e1e" stroke="#222" stroke-width="1.1" />
<polyline points="174.10,25.00 174.10,21.50 202.20,21.50 202.20,25.00" fill="none" stroke="#333" stroke-width="1.0" stroke-linejoin="round" />
<line x1="183.60" y1="16.40" x2="183.60" y2="20.00" stroke="#222" stroke-width="1.0" />
<line x1="182.04" y1="17.30" x2="185.16" y2="19.10" stroke="#222" stroke-width="1.0" />
<line x1="185.16" y1="17.30" x2="182.04" y2="19.10" stroke="#222" stroke-width="1.0" />
<line x1="188.60" y1="16.40" x2="188.60" y2="20.00" stroke="#222" stroke-width="1.0" />
<line x1="187.04" y1="17.30" x2="190.16" y2="19.10" stroke="#222" stroke-width="1.0" />
<line x1="190.16" y1="17.30" x2="187.04" y2="19.10" stroke="#222" stroke-width="1.0" />
<polyline points="210.30,42.00 210.30,38.60 238.50,38.60 238.50,42.00" fill="none" stroke="#333" stroke-width="1.0" stroke-linejoin="round" />
<line x1="221.70" y1="33.10" x2="221.70" y2="36.70" stroke="#222" stroke-width="1.0" />
<line x1="220.14" y1="34.00" x2="223.26" y2="35.80" stroke="#222" stroke-width="1.0" />
<line x1="223.26" y1="34.00" x2="220.14" y2="35.80" stroke="#222" stroke-width="1.0" />
<line x1="226.70" y1="33.10" x2="226.70" y2="36.70" stroke="#222" stroke-width="1.0" />
<line x1="225.14" y1="34.00" x2="228.26" y2="35.80" stroke="#222" stroke-width="1.0" />
<line x1="228.26" y1="34.00" x2="225.14" y2="35.80" stroke="#222" stroke-width="1.0" />
<text x="137.80" y="93.30" font-size="7.00" font-weight="normal" fill="#333" textLength="26.20" lengthAdjust="spacingAndGlyphs"  style="stroke-width:0.16px">BCR-ABL:</text>
<text x="143.20" y="102.60" font-size="7.00" font-weight="normal" fill="#333" textLength="18.10" lengthAdjust="spacingAndGlyphs"  style="stroke-width:0.16px">Alox5:</text>
<line x1="174.60" y1="92.00" x2="176.40" y2="92.00" stroke="#333" stroke-width="0.8" />
<line x1="206.90" y1="92.00" x2="210.70" y2="92.00" stroke="#333" stroke-width="0.8" />
<line x1="208.80" y1="90.10" x2="208.80" y2="93.90" stroke="#333" stroke-width="0.8" />
<line x1="239.90" y1="92.00" x2="243.70" y2="92.00" stroke="#333" stroke-width="0.8" />
<line x1="241.80" y1="90.10" x2="241.80" y2="93.90" stroke="#333" stroke-width="0.8" />
<line x1="173.60" y1="99.90" x2="177.40" y2="99.90" stroke="#333" stroke-width="0.8" />
<line x1="175.50" y1="98.00" x2="175.50" y2="101.80" stroke="#333" stroke-width="0.8" />
<line x1="206.90" y1="99.90" x2="210.70" y2="99.90" stroke="#333" stroke-width="0.8" />
<line x1="208.80" y1="98.00" x2="208.80" y2="101.80" stroke="#333" stroke-width="0.8" />
<line x1="240.90" y1="99.90" x2="242.70" y2="99.90" stroke="#333" stroke-width="0.8" />
<text x="263.00" y="12.70" font-size="11.20" font-weight="bold" fill="#111" textLength="7.70" lengthAdjust="spacingAndGlyphs"  style="stroke-width:0.24px">C</text>
<line x1="286.50" y1="101.40" x2="286.50" y2="21.00" stroke="#222" stroke-width="1.1" />
<polygon points="286.50,16.80 288.35,23.60 284.65,23.60" fill="#222"/>
<line x1="286.50" y1="101.40" x2="369.50" y2="101.40" stroke="#222" stroke-width="1.1" />
<polygon points="375.00,101.40 368.50,103.50 368.50,99.30" fill="#222"/>
<text transform="translate(283.60,72.60) rotate(-90)" x="0" y="0" font-size="8.60" fill="#333" textLength="38.80" lengthAdjust="spacingAndGlyphs" style="stroke-width:0.16px">% of Max</text>
<text x="360.80" y="111.20" font-size="8.70" font-weight="normal" fill="#333" textLength="19.20" lengthAdjust="spacingAndGlyphs"  style="stroke-width:0.16px">MSR1</text>
<line x1="300.60" y1="8.30" x2="300.60" y2="89.30" stroke="#888" stroke-width="0.8" stroke-dasharray="1.4,0.9"/>
<line x1="299.00" y1="89.30" x2="300.60" y2="89.30" stroke="#777" stroke-width="0.6" />
<text x="298.60" y="90.50" font-size="3.60" fill="#777" text-anchor="end" style="stroke-width:0.05px">0</text>
<line x1="299.00" y1="73.30" x2="300.60" y2="73.30" stroke="#777" stroke-width="0.6" />
<text x="298.60" y="74.50" font-size="3.60" fill="#777" text-anchor="end" style="stroke-width:0.05px">20</text>
<line x1="299.00" y1="57.30" x2="300.60" y2="57.30" stroke="#777" stroke-width="0.6" />
<text x="298.60" y="58.50" font-size="3.60" fill="#777" text-anchor="end" style="stroke-width:0.05px">40</text>
<line x1="299.00" y1="41.30" x2="300.60" y2="41.30" stroke="#777" stroke-width="0.6" />
<text x="298.60" y="42.50" font-size="3.60" fill="#777" text-anchor="end" style="stroke-width:0.05px">60</text>
<line x1="299.00" y1="25.30" x2="300.60" y2="25.30" stroke="#777" stroke-width="0.6" />
<text x="298.60" y="26.50" font-size="3.60" fill="#777" text-anchor="end" style="stroke-width:0.05px">80</text>
<line x1="299.00" y1="9.30" x2="300.60" y2="9.30" stroke="#777" stroke-width="0.6" />
<text x="298.60" y="10.50" font-size="3.60" fill="#777" text-anchor="end" style="stroke-width:0.05px">100</text>
<line x1="300.60" y1="89.30" x2="385.20" y2="89.30" stroke="#8a94b4" stroke-width="0.8" />
<line x1="300.60" y1="89.30" x2="300.60" y2="90.90" stroke="#777" stroke-width="0.6" />
<line x1="321.50" y1="89.30" x2="321.50" y2="90.90" stroke="#777" stroke-width="0.6" />
<line x1="342.40" y1="89.30" x2="342.40" y2="90.90" stroke="#777" stroke-width="0.6" />
<line x1="363.30" y1="89.30" x2="363.30" y2="90.90" stroke="#777" stroke-width="0.6" />
<line x1="384.20" y1="89.30" x2="384.20" y2="90.90" stroke="#777" stroke-width="0.6" />
<text x="299.60" y="97.60" font-size="4.0" fill="#555" text-anchor="middle" style="stroke-width:0.05px">10<tspan dy="-1.6" font-size="3.20">0</tspan></text>
<text x="320.50" y="97.60" font-size="4.0" fill="#555" text-anchor="middle" style="stroke-width:0.05px">10<tspan dy="-1.6" font-size="3.20">1</tspan></text>
<text x="341.40" y="97.60" font-size="4.0" fill="#555" text-anchor="middle" style="stroke-width:0.05px">10<tspan dy="-1.6" font-size="3.20">2</tspan></text>
<text x="362.30" y="97.60" font-size="4.0" fill="#555" text-anchor="middle" style="stroke-width:0.05px">10<tspan dy="-1.6" font-size="3.20">3</tspan></text>
<text x="383.20" y="97.60" font-size="4.0" fill="#555" text-anchor="middle" style="stroke-width:0.05px">10<tspan dy="-1.6" font-size="3.20">4</tspan></text>
<polyline points="300.50,89.30 300.80,63.50 301.30,76.00 301.90,89.30" fill="none" stroke="#6878a8" stroke-width="0.7" stroke-linejoin="round" />
<path d="M311.50,89.00 C312.72,87.95 317.12,84.10 318.80,82.70 C320.48,81.30 320.73,80.60 321.60,80.60 C322.47,80.60 323.23,82.87 324.00,82.70 C324.77,82.53 325.48,82.92 326.20,79.60 C326.92,76.28 327.60,68.40 328.30,62.80 C329.00,57.20 329.82,51.23 330.40,46.00 C330.98,40.77 331.35,34.18 331.80,31.40 C332.25,28.62 332.72,31.05 333.10,29.30 C333.48,27.55 333.75,23.87 334.10,20.90 C334.45,17.93 334.85,13.32 335.20,11.50 C335.55,9.68 335.85,9.12 336.20,10.00 C336.55,10.88 336.98,14.28 337.30,16.80 C337.62,19.32 337.78,23.72 338.10,25.10 C338.42,26.48 338.85,24.40 339.20,25.10 C339.55,25.80 339.85,26.50 340.20,29.30 C340.55,32.10 340.92,38.75 341.30,41.90 C341.68,45.05 342.05,45.77 342.50,48.20 C342.95,50.63 343.47,55.45 344.00,56.50 C344.53,57.55 345.00,53.80 345.70,54.50 C346.40,55.20 347.27,60.53 348.20,60.70 C349.13,60.87 350.43,56.02 351.30,55.50 C352.17,54.98 352.53,57.70 353.40,57.60 C354.27,57.50 355.57,54.38 356.50,54.90 C357.43,55.42 358.22,57.63 359.00,60.70 C359.78,63.77 360.57,69.98 361.20,73.30 C361.83,76.62 362.18,78.15 362.80,80.60 C363.42,83.05 364.37,86.57 364.90,88.00 C365.43,89.43 365.82,89.00 366.00,89.20" fill="none" stroke="#e0473a" stroke-width="0.9" stroke-linejoin="round"/>
<path d="M325.10,89.00 C325.45,88.13 326.50,84.15 327.20,83.80 C327.90,83.45 328.60,87.25 329.30,86.90 C330.00,86.55 330.70,83.97 331.40,81.70 C332.10,79.43 332.80,75.22 333.50,73.30 C334.20,71.38 334.90,71.42 335.60,70.20 C336.30,68.98 337.00,66.18 337.70,66.00 C338.40,65.82 339.17,69.98 339.80,69.10 C340.43,68.22 341.05,65.23 341.50,60.70 C341.95,56.17 342.15,47.83 342.50,41.90 C342.85,35.97 343.25,30.33 343.60,25.10 C343.95,19.87 344.25,10.50 344.60,10.50 C344.95,10.50 345.38,19.87 345.70,25.10 C346.02,30.33 346.08,39.28 346.50,41.90 C346.92,44.52 347.68,40.45 348.20,40.80 C348.72,41.15 349.18,41.03 349.60,44.00 C350.02,46.97 350.23,54.77 350.70,58.60 C351.17,62.43 351.77,64.55 352.40,67.00 C353.03,69.45 353.63,71.03 354.50,73.30 C355.37,75.57 356.57,78.33 357.60,80.60 C358.63,82.87 359.83,85.50 360.70,86.90 C361.57,88.30 362.25,88.62 362.80,89.00 C363.35,89.38 363.80,89.17 364.00,89.20" fill="none" stroke="#3d5fae" stroke-width="0.9" stroke-linejoin="round"/>
<rect x="354.30" y="11.20" width="6.20" height="5.10" fill="#e0473a" stroke="#333" stroke-width="0.7" />
<rect x="354.30" y="18.60" width="6.20" height="5.10" fill="#3d5fae" stroke="#333" stroke-width="0.7" />
<text x="361.80" y="16.40" font-size="6.80" font-weight="normal" fill="#333" textLength="11.90" lengthAdjust="spacingAndGlyphs"  style="stroke-width:0.16px">LSC</text>
<text x="361.80" y="23.80" font-size="6.80" font-weight="normal" fill="#333" textLength="11.90" lengthAdjust="spacingAndGlyphs"  style="stroke-width:0.16px">HSC</text>
<text x="388.00" y="13.10" font-size="11.50" font-weight="bold" fill="#111" textLength="7.30" lengthAdjust="spacingAndGlyphs"  style="stroke-width:0.24px">D</text>
<line x1="401.90" y1="104.10" x2="401.90" y2="27.00" stroke="#222" stroke-width="1.1" />
<polygon points="401.90,22.20 403.75,28.70 400.05,28.70" fill="#222"/>
<line x1="401.90" y1="104.10" x2="499.00" y2="104.10" stroke="#222" stroke-width="1.1" />
<polygon points="504.50,104.10 498.00,106.20 498.00,102.00" fill="#222"/>
<text transform="translate(400.20,78.80) rotate(-90)" x="0" y="0" font-size="8.60" fill="#333" textLength="33.00" lengthAdjust="spacingAndGlyphs" style="stroke-width:0.16px">% of Max</text>
<line x1="416.70" y1="10.40" x2="416.70" y2="90.30" stroke="#c9a0b0" stroke-width="0.8" stroke-dasharray="1.4,0.9"/>
<line x1="415.10" y1="90.30" x2="416.70" y2="90.30" stroke="#777" stroke-width="0.6" />
<text x="414.70" y="91.50" font-size="3.60" fill="#777" text-anchor="end" style="stroke-width:0.05px">0</text>
<line x1="415.10" y1="74.52" x2="416.70" y2="74.52" stroke="#777" stroke-width="0.6" />
<text x="414.70" y="75.72" font-size="3.60" fill="#777" text-anchor="end" style="stroke-width:0.05px">20</text>
<line x1="415.10" y1="58.74" x2="416.70" y2="58.74" stroke="#777" stroke-width="0.6" />
<text x="414.70" y="59.94" font-size="3.60" fill="#777" text-anchor="end" style="stroke-width:0.05px">40</text>
<line x1="415.10" y1="42.96" x2="416.70" y2="42.96" stroke="#777" stroke-width="0.6" />
<text x="414.70" y="44.16" font-size="3.60" fill="#777" text-anchor="end" style="stroke-width:0.05px">60</text>
<line x1="415.10" y1="27.18" x2="416.70" y2="27.18" stroke="#777" stroke-width="0.6" />
<text x="414.70" y="28.38" font-size="3.60" fill="#777" text-anchor="end" style="stroke-width:0.05px">80</text>
<line x1="415.10" y1="11.40" x2="416.70" y2="11.40" stroke="#777" stroke-width="0.6" />
<text x="414.70" y="12.60" font-size="3.60" fill="#777" text-anchor="end" style="stroke-width:0.05px">100</text>
<line x1="416.70" y1="90.30" x2="505.40" y2="90.30" stroke="#8a94b4" stroke-width="0.8" />
<line x1="416.70" y1="90.30" x2="416.70" y2="91.90" stroke="#777" stroke-width="0.6" />
<line x1="438.50" y1="90.30" x2="438.50" y2="91.90" stroke="#777" stroke-width="0.6" />
<line x1="460.40" y1="90.30" x2="460.40" y2="91.90" stroke="#777" stroke-width="0.6" />
<line x1="482.40" y1="90.30" x2="482.40" y2="91.90" stroke="#777" stroke-width="0.6" />
<line x1="504.40" y1="90.30" x2="504.40" y2="91.90" stroke="#777" stroke-width="0.6" />
<text x="415.70" y="97.60" font-size="4.0" fill="#555" text-anchor="middle" style="stroke-width:0.05px">10<tspan dy="-1.6" font-size="3.20">0</tspan></text>
<text x="437.50" y="97.60" font-size="4.0" fill="#555" text-anchor="middle" style="stroke-width:0.05px">10<tspan dy="-1.6" font-size="3.20">1</tspan></text>
<text x="459.40" y="97.60" font-size="4.0" fill="#555" text-anchor="middle" style="stroke-width:0.05px">10<tspan dy="-1.6" font-size="3.20">2</tspan></text>
<text x="481.40" y="97.60" font-size="4.0" fill="#555" text-anchor="middle" style="stroke-width:0.05px">10<tspan dy="-1.6" font-size="3.20">3</tspan></text>
<text x="503.40" y="97.60" font-size="4.0" fill="#555" text-anchor="middle" style="stroke-width:0.05px">10<tspan dy="-1.6" font-size="3.20">4</tspan></text>
<path d="M457.20,90.20 C458.02,89.70 460.68,88.30 462.10,87.20 C463.52,86.10 464.48,85.22 465.70,83.60 C466.92,81.98 468.18,80.53 469.40,77.50 C470.62,74.47 472.00,70.23 473.00,65.40 C474.00,60.57 474.67,52.93 475.40,48.50 C476.13,44.07 476.78,39.82 477.40,38.80 C478.02,37.78 478.53,44.42 479.10,42.40 C479.67,40.38 480.28,31.75 480.80,26.70 C481.32,21.65 481.68,14.13 482.20,12.10 C482.72,10.07 483.33,12.68 483.90,14.50 C484.47,16.32 485.07,22.18 485.60,23.00 C486.13,23.82 486.57,18.78 487.10,19.40 C487.63,20.02 488.12,20.65 488.80,26.70 C489.48,32.75 490.40,46.82 491.20,55.70 C492.00,64.58 492.80,74.33 493.60,80.00 C494.40,85.67 495.35,88.00 496.00,89.70 C496.65,91.40 497.25,90.12 497.50,90.20" fill="none" stroke="#3d5fae" stroke-width="0.9" stroke-linejoin="round"/>
<path d="M462.10,90.20 C463.12,90.12 466.58,90.20 468.20,89.70 C469.82,89.20 470.80,89.23 471.80,87.20 C472.80,85.17 473.52,78.70 474.20,77.50 C474.88,76.30 475.30,82.02 475.90,80.00 C476.50,77.98 477.07,70.87 477.80,65.40 C478.53,59.93 479.48,51.23 480.30,47.20 C481.12,43.17 481.98,45.43 482.70,41.20 C483.42,36.97 484.00,24.63 484.60,21.80 C485.20,18.97 485.73,25.62 486.30,24.20 C486.87,22.78 487.47,13.30 488.00,13.30 C488.53,13.30 488.97,18.33 489.50,24.20 C490.03,30.07 490.52,40.42 491.20,48.50 C491.88,56.58 492.92,66.25 493.60,72.70 C494.28,79.15 494.70,84.30 495.30,87.20 C495.90,90.10 496.88,89.62 497.20,90.10" fill="none" stroke="#e0473a" stroke-width="0.9" stroke-linejoin="round"/>
<rect x="422.20" y="12.30" width="9.00" height="7.00" fill="#3d5fae" stroke="#333" stroke-width="0.8" />
<rect x="422.20" y="21.50" width="9.00" height="6.80" fill="#e0473a" stroke="#333" stroke-width="0.8" />
<text x="433.20" y="19.40" font-size="7.00" font-weight="normal" fill="#333" textLength="28.90" lengthAdjust="spacingAndGlyphs"  style="stroke-width:0.16px">WT to WT</text>
<text x="433.2" y="27.9" font-size="7.0" fill="#333" textLength="42.2" lengthAdjust="spacingAndGlyphs" style="stroke-width:0.16px">Alox5<tspan dy="-2.6" font-size="4.2">-/-</tspan><tspan dy="2.6"> to WT</tspan></text>
<text x="434.20" y="61.80" font-size="13.60" font-weight="normal" fill="#222" textLength="19.90" lengthAdjust="spacingAndGlyphs"  style="stroke-width:0.24px">LSC</text>
<text x="486.00" y="114.30" font-size="8.70" font-weight="normal" fill="#333" textLength="20.00" lengthAdjust="spacingAndGlyphs"  style="stroke-width:0.16px">MSR1</text>
<text x="1.60" y="127.40" font-size="11.00" font-weight="bold" fill="#111" textLength="7.30" lengthAdjust="spacingAndGlyphs"  style="stroke-width:0.24px">E</text>
<line x1="27.30" y1="166.50" x2="27.30" y2="262.00" stroke="#333" stroke-width="0.9" />
<line x1="27.30" y1="262.00" x2="174.50" y2="262.00" stroke="#333" stroke-width="0.9" />
<line x1="25.30" y1="262.00" x2="27.30" y2="262.00" stroke="#333" stroke-width="0.8" />
<text x="24.70" y="264.40" font-size="7.00" fill="#333" text-anchor="end" style="stroke-width:0.16px">0</text>
<line x1="25.30" y1="214.25" x2="27.30" y2="214.25" stroke="#333" stroke-width="0.8" />
<text x="24.70" y="216.65" font-size="7.00" fill="#333" text-anchor="end" style="stroke-width:0.16px">50</text>
<line x1="25.30" y1="166.50" x2="27.30" y2="166.50" stroke="#333" stroke-width="0.8" />
<text x="24.70" y="168.90" font-size="7.00" fill="#333" text-anchor="end" style="stroke-width:0.16px">100</text>
<line x1="27.30" y1="262.00" x2="27.30" y2="264.00" stroke="#333" stroke-width="0.8" />
<text x="27.30" y="273.20" font-size="7.00" font-weight="normal" fill="#333" text-anchor="middle" style="stroke-width:0.16px">0</text>
<line x1="75.70" y1="262.00" x2="75.70" y2="264.00" stroke="#333" stroke-width="0.8" />
<text x="75.70" y="273.20" font-size="7.00" font-weight="normal" fill="#333" text-anchor="middle" style="stroke-width:0.16px">20</text>
<line x1="124.10" y1="262.00" x2="124.10" y2="264.00" stroke="#333" stroke-width="0.8" />
<text x="124.10" y="273.20" font-size="7.00" font-weight="normal" fill="#333" text-anchor="middle" style="stroke-width:0.16px">40</text>
<line x1="172.50" y1="262.00" x2="172.50" y2="264.00" stroke="#333" stroke-width="0.8" />
<text x="172.50" y="273.20" font-size="7.00" font-weight="normal" fill="#333" text-anchor="middle" style="stroke-width:0.16px">60</text>
<text x="72.50" y="288.70" font-size="10.00" font-weight="normal" fill="#333" textLength="65.00" lengthAdjust="spacingAndGlyphs"  style="stroke-width:0.24px">Days post BMT</text>
<text transform="translate(8.60,248.10) rotate(-90)" x="0" y="0" font-size="9.70" fill="#333" textLength="69.40" lengthAdjust="spacingAndGlyphs" style="stroke-width:0.24px">Percent survival</text>
<line x1="27.30" y1="166.50" x2="73.60" y2="166.50" stroke="#1a1a1a" stroke-width="1.0" />
<rect x="37.20" y="164.80" width="3.40" height="3.40" fill="#222" stroke="#222" stroke-width="0.6" />
<polyline points="63.00,166.50 73.60,166.50 73.60,178.30 79.00,178.30 79.00,190.40" fill="none" stroke="#1a1a1a" stroke-width="1.0" stroke-linejoin="round" />
<line x1="79.00" y1="190.40" x2="172.50" y2="190.40" stroke="#1a1a1a" stroke-width="1.0" />
<polygon points="79.20,188.60 80.70,191.60 77.70,191.60" fill="#222"/>
<polygon points="172.50,188.48 174.10,191.68 170.90,191.68" fill="#222"/>
<polyline points="56.00,166.50 56.70,166.50 56.70,169.40 58.50,169.40 58.50,181.20 61.10,181.20 61.10,198.70 63.00,198.70 63.00,236.30 66.30,236.30 66.30,242.00 70.00,242.00 70.00,244.50 72.00,244.50 72.00,245.50 73.75,245.50 73.75,250.75 75.50,250.75 75.50,262.00" fill="none" stroke="#1a1a1a" stroke-width="1.0" stroke-linejoin="round" />
<polygon points="56.70,167.24 58.50,170.84 54.90,170.84" fill="#222"/>
<polygon points="58.50,179.04 60.30,182.64 56.70,182.64" fill="#222"/>
<polygon points="61.10,196.54 62.90,200.14 59.30,200.14" fill="#222"/>
<polygon points="63.00,234.14 64.80,237.74 61.20,237.74" fill="#222"/>
<polygon points="66.30,239.84 68.10,243.44 64.50,243.44" fill="#222"/>
<polygon points="70.00,242.34 71.80,245.94 68.20,245.94" fill="#222"/>
<polygon points="72.00,243.34 73.80,246.94 70.20,246.94" fill="#222"/>
<polygon points="73.75,248.59 75.55,252.19 71.95,252.19" fill="#222"/>
<rect x="73.90" y="259.40" width="3.20" height="3.20" fill="#222" stroke="#222" stroke-width="0.6" />
<polyline points="63.00,166.50 63.50,166.50 63.50,181.20 66.30,181.20 66.30,204.70 68.00,204.70 68.00,242.50 71.00,242.50 71.00,246.00 74.00,246.00 74.00,252.00 75.80,252.00 75.80,262.00" fill="none" stroke="#1a1a1a" stroke-width="1.0" stroke-linejoin="round" />
<polygon points="63.50,183.30 65.25,179.80 61.75,179.80" fill="#222"/>
<polygon points="66.30,206.80 68.05,203.30 64.55,203.30" fill="#222"/>
<polygon points="68.00,244.60 69.75,241.10 66.25,241.10" fill="#222"/>
<polygon points="71.00,248.10 72.75,244.60 69.25,244.60" fill="#222"/>
<polygon points="74.00,254.10 75.75,250.60 72.25,250.60" fill="#222"/>
<polyline points="61.50,166.50 63.30,166.50 63.30,172.70 66.30,172.70 66.30,175.70 68.50,175.70 68.50,177.00 71.20,177.00 71.20,179.30 73.00,179.30 73.00,188.40 75.60,188.40 75.60,197.30 78.00,197.30 78.00,200.50 80.50,200.50 80.50,203.70 85.00,203.70 85.00,213.00 88.00,213.00 88.00,219.30 90.50,219.30 90.50,228.00 92.50,228.00 92.50,234.50 100.00,234.50 100.00,237.50 122.00,237.50 122.00,240.75 145.50,240.75 145.50,243.25 148.00,243.25 148.00,247.00 150.50,247.00 150.50,250.00 153.75,250.00 153.75,253.00 158.00,253.00 158.00,256.25 167.50,256.25 167.50,258.75 172.50,258.75 172.50,262.00" fill="none" stroke="#1a1a1a" stroke-width="1.0" stroke-linejoin="round" />
<rect x="61.55" y="170.95" width="3.50" height="3.50" fill="#ccc" stroke="#1a1a1a" stroke-width="1.0" />
<rect x="64.55" y="173.95" width="3.50" height="3.50" fill="#ccc" stroke="#1a1a1a" stroke-width="1.0" />
<rect x="66.75" y="175.25" width="3.50" height="3.50" fill="#ccc" stroke="#1a1a1a" stroke-width="1.0" />
<rect x="69.45" y="177.55" width="3.50" height="3.50" fill="#ccc" stroke="#1a1a1a" stroke-width="1.0" />
<rect x="71.25" y="186.65" width="3.50" height="3.50" fill="#ccc" stroke="#1a1a1a" stroke-width="1.0" />
<rect x="73.85" y="195.55" width="3.50" height="3.50" fill="#ccc" stroke="#1a1a1a" stroke-width="1.0" />
<rect x="76.25" y="198.75" width="3.50" height="3.50" fill="#ccc" stroke="#1a1a1a" stroke-width="1.0" />
<rect x="78.75" y="201.95" width="3.50" height="3.50" fill="#ccc" stroke="#1a1a1a" stroke-width="1.0" />
<rect x="83.25" y="211.25" width="3.50" height="3.50" fill="#ccc" stroke="#1a1a1a" stroke-width="1.0" />
<rect x="86.25" y="217.55" width="3.50" height="3.50" fill="#ccc" stroke="#1a1a1a" stroke-width="1.0" />
<rect x="88.75" y="226.25" width="3.50" height="3.50" fill="#ccc" stroke="#1a1a1a" stroke-width="1.0" />
<rect x="90.75" y="232.75" width="3.50" height="3.50" fill="#ccc" stroke="#1a1a1a" stroke-width="1.0" />
<rect x="98.25" y="235.75" width="3.50" height="3.50" fill="#ccc" stroke="#1a1a1a" stroke-width="1.0" />
<rect x="120.25" y="239.00" width="3.50" height="3.50" fill="#ccc" stroke="#1a1a1a" stroke-width="1.0" />
<rect x="143.75" y="241.50" width="3.50" height="3.50" fill="#ccc" stroke="#1a1a1a" stroke-width="1.0" />
<rect x="146.25" y="245.25" width="3.50" height="3.50" fill="#ccc" stroke="#1a1a1a" stroke-width="1.0" />
<rect x="148.75" y="248.25" width="3.50" height="3.50" fill="#ccc" stroke="#1a1a1a" stroke-width="1.0" />
<rect x="152.00" y="251.25" width="3.50" height="3.50" fill="#ccc" stroke="#1a1a1a" stroke-width="1.0" />
<rect x="156.25" y="254.50" width="3.50" height="3.50" fill="#ccc" stroke="#1a1a1a" stroke-width="1.0" />
<rect x="165.75" y="257.00" width="3.50" height="3.50" fill="#ccc" stroke="#1a1a1a" stroke-width="1.0" />
<rect x="170.75" y="260.25" width="3.50" height="3.50" fill="#ccc" stroke="#1a1a1a" stroke-width="1.0" />
<line x1="82.90" y1="129.20" x2="93.50" y2="129.20" stroke="#1a1a1a" stroke-width="1.0" />
<rect x="86.10" y="127.20" width="4.00" height="4.00" fill="#ccc" stroke="#1a1a1a" stroke-width="1.0" />
<line x1="82.90" y1="142.00" x2="93.50" y2="142.00" stroke="#1a1a1a" stroke-width="1.0" />
<rect x="86.20" y="140.10" width="3.80" height="3.80" fill="#222" stroke="#222" stroke-width="0.6" />
<line x1="82.90" y1="154.20" x2="93.50" y2="154.20" stroke="#1a1a1a" stroke-width="1.0" />
<polygon points="88.10,151.56 90.30,155.96 85.90,155.96" fill="#222"/>
<line x1="82.90" y1="166.10" x2="93.50" y2="166.10" stroke="#1a1a1a" stroke-width="1.0" />
<polygon points="88.10,168.74 90.30,164.34 85.90,164.34" fill="#222"/>
<text x="98.3" y="132.20" font-size="8.4" fill="#333" textLength="62.5" lengthAdjust="spacingAndGlyphs" style="stroke-width:0.16px">WT to WT(5x10<tspan dx="0.4" dy="-2.6" font-size="6.6">5</tspan><tspan dx="0.3" dy="2.6">)</tspan></text>
<text x="98.3" y="145.00" font-size="8.4" fill="#333" textLength="75.9" lengthAdjust="spacingAndGlyphs" style="stroke-width:0.16px">Msr1<tspan dy="-2.8" font-size="4.6">-/-</tspan><tspan dy="2.8"> to WT(5x10</tspan><tspan dx="0.4" dy="-2.6" font-size="6.6">5</tspan><tspan dx="0.3" dy="2.6">)</tspan></text>
<text x="98.3" y="157.20" font-size="8.4" fill="#333" textLength="62.1" lengthAdjust="spacingAndGlyphs" style="stroke-width:0.16px">WT to WT(2x10<tspan dx="0.4" dy="-2.6" font-size="6.6">5</tspan><tspan dx="0.3" dy="2.6">)</tspan></text>
<text x="98.3" y="169.10" font-size="8.4" fill="#333" textLength="75.9" lengthAdjust="spacingAndGlyphs" style="stroke-width:0.16px">Msr1<tspan dy="-2.8" font-size="4.6">-/-</tspan><tspan dy="2.8"> to WT(2x10</tspan><tspan dx="0.4" dy="-2.6" font-size="6.6">5</tspan><tspan dx="0.3" dy="2.6">)</tspan></text>
<text x="190.00" y="127.50" font-size="11.00" font-weight="bold" fill="#111" textLength="6.50" lengthAdjust="spacingAndGlyphs"  style="stroke-width:0.24px">F</text>
<text x="250.00" y="141.50" font-size="7.90" font-weight="normal" fill="#333" textLength="25.20" lengthAdjust="spacingAndGlyphs"  style="stroke-width:0.16px">Day 14</text>
<text x="207.80" y="149.90" font-size="8.60" font-weight="normal" fill="#333" textLength="15.90" lengthAdjust="spacingAndGlyphs"  style="stroke-width:0.16px">Gr-1</text>
<line x1="216.30" y1="282.80" x2="216.30" y2="159.00" stroke="#222" stroke-width="1.1" />
<polygon points="216.30,154.30 218.10,160.30 214.50,160.30" fill="#222"/>
<line x1="216.30" y1="282.80" x2="262.50" y2="282.80" stroke="#222" stroke-width="1.1" />
<polygon points="267.80,282.80 261.60,284.70 261.60,280.90" fill="#222"/>
<text x="270.80" y="288.20" font-size="8.80" font-weight="normal" fill="#333" textLength="15.30" lengthAdjust="spacingAndGlyphs"  style="stroke-width:0.16px">GFP</text>
<rect x="232.30" y="146.80" width="56.20" height="56.20" fill="none" stroke="#888" stroke-width="0.7" />
<line x1="248.40" y1="146.80" x2="248.40" y2="203.00" stroke="#888" stroke-width="0.7" />
<line x1="232.30" y1="182.50" x2="288.50" y2="182.50" stroke="#888" stroke-width="0.7" />
<text x="231.1" y="204.0" font-size="3.0" fill="#666" text-anchor="end" style="stroke-width:0.05px">10<tspan dy="-1" font-size="2">0</tspan></text>
<text x="232.3" y="208.0" font-size="3.0" fill="#666" text-anchor="middle" style="stroke-width:0.05px">10<tspan dy="-1" font-size="2">0</tspan></text>
<text x="231.1" y="189.9" font-size="3.0" fill="#666" text-anchor="end" style="stroke-width:0.05px">10<tspan dy="-1" font-size="2">1</tspan></text>
<text x="246.4" y="208.0" font-size="3.0" fill="#666" text-anchor="middle" style="stroke-width:0.05px">10<tspan dy="-1" font-size="2">1</tspan></text>
<text x="231.1" y="175.9" font-size="3.0" fill="#666" text-anchor="end" style="stroke-width:0.05px">10<tspan dy="-1" font-size="2">2</tspan></text>
<text x="260.4" y="208.0" font-size="3.0" fill="#666" text-anchor="middle" style="stroke-width:0.05px">10<tspan dy="-1" font-size="2">2</tspan></text>
<text x="231.1" y="161.9" font-size="3.0" fill="#666" text-anchor="end" style="stroke-width:0.05px">10<tspan dy="-1" font-size="2">3</tspan></text>
<text x="274.4" y="208.0" font-size="3.0" fill="#666" text-anchor="middle" style="stroke-width:0.05px">10<tspan dy="-1" font-size="2">3</tspan></text>
<text x="231.1" y="147.8" font-size="3.0" fill="#666" text-anchor="end" style="stroke-width:0.05px">10<tspan dy="-1" font-size="2">4</tspan></text>
<text x="288.5" y="208.0" font-size="3.0" fill="#666" text-anchor="middle" style="stroke-width:0.05px">10<tspan dy="-1" font-size="2">4</tspan></text>
<g filter="url(#dotblur)">
<path d="M236.5,170.6h1.0v1.0h-1.0zM242.3,166.1h1.0v1.0h-1.0zM236.2,168.4h1.0v1.0h-1.0zM240.9,174.2h1.0v1.0h-1.0zM236.5,162.2h1.0v1.0h-1.0zM241.5,171.1h1.0v1.0h-1.0zM243.7,173.6h1.0v1.0h-1.0zM239.4,167.3h1.0v1.0h-1.0zM246.4,167.3h1.0v1.0h-1.0zM237.7,163.0h1.0v1.0h-1.0zM239.9,169.4h1.0v1.0h-1.0zM238.8,168.4h1.0v1.0h-1.0zM240.4,172.2h1.0v1.0h-1.0zM242.6,169.7h1.0v1.0h-1.0zM235.0,172.2h1.0v1.0h-1.0zM236.0,167.8h1.0v1.0h-1.0zM235.9,168.7h1.0v1.0h-1.0zM237.7,169.8h1.0v1.0h-1.0zM248.3,168.5h1.0v1.0h-1.0zM241.9,162.1h1.0v1.0h-1.0zM239.0,172.0h1.0v1.0h-1.0zM239.5,170.6h1.0v1.0h-1.0zM240.0,163.7h1.0v1.0h-1.0zM241.2,164.6h1.0v1.0h-1.0zM244.6,166.2h1.0v1.0h-1.0zM241.5,168.7h1.0v1.0h-1.0zM242.2,165.7h1.0v1.0h-1.0zM242.3,168.1h1.0v1.0h-1.0zM243.0,171.8h1.0v1.0h-1.0zM240.1,164.8h1.0v1.0h-1.0zM241.7,171.0h1.0v1.0h-1.0zM244.0,166.8h1.0v1.0h-1.0zM241.1,171.2h1.0v1.0h-1.0zM240.4,169.7h1.0v1.0h-1.0zM240.2,165.7h1.0v1.0h-1.0zM237.1,166.7h1.0v1.0h-1.0zM241.2,176.3h1.0v1.0h-1.0zM242.2,174.0h1.0v1.0h-1.0zM241.7,172.2h1.0v1.0h-1.0zM240.2,172.6h1.0v1.0h-1.0zM244.3,167.1h1.0v1.0h-1.0zM237.9,178.5h1.0v1.0h-1.0zM240.3,173.6h1.0v1.0h-1.0zM242.0,163.0h1.0v1.0h-1.0zM246.0,177.6h1.0v1.0h-1.0zM240.2,172.5h1.0v1.0h-1.0zM240.0,164.3h1.0v1.0h-1.0zM239.4,170.6h1.0v1.0h-1.0zM242.6,172.2h1.0v1.0h-1.0zM239.9,175.5h1.0v1.0h-1.0zM237.7,172.7h1.0v1.0h-1.0zM242.6,167.2h1.0v1.0h-1.0zM235.0,164.2h1.0v1.0h-1.0zM240.3,171.3h1.0v1.0h-1.0zM243.7,163.7h1.0v1.0h-1.0zM239.7,171.9h1.0v1.0h-1.0zM239.3,156.9h1.0v1.0h-1.0zM241.8,180.3h1.0v1.0h-1.0zM242.3,164.1h1.0v1.0h-1.0zM238.6,169.8h1.0v1.0h-1.0zM246.2,171.8h1.0v1.0h-1.0zM240.0,176.5h1.0v1.0h-1.0zM239.5,178.0h1.0v1.0h-1.0zM237.9,166.3h1.0v1.0h-1.0zM241.6,175.8h1.0v1.0h-1.0zM241.4,170.2h1.0v1.0h-1.0zM235.0,165.1h1.0v1.0h-1.0zM238.1,166.0h1.0v1.0h-1.0zM241.2,167.0h1.0v1.0h-1.0zM241.7,169.1h1.0v1.0h-1.0zM238.8,169.3h1.0v1.0h-1.0zM240.8,173.0h1.0v1.0h-1.0zM238.5,167.5h1.0v1.0h-1.0zM236.2,176.7h1.0v1.0h-1.0zM243.5,167.8h1.0v1.0h-1.0zM238.5,162.5h1.0v1.0h-1.0zM240.1,169.7h1.0v1.0h-1.0zM245.4,169.9h1.0v1.0h-1.0zM237.7,156.5h1.0v1.0h-1.0zM243.4,169.6h1.0v1.0h-1.0zM235.5,169.6h1.0v1.0h-1.0zM235.5,186.1h1.0v1.0h-1.0zM242.6,171.6h1.0v1.0h-1.0zM239.2,158.0h1.0v1.0h-1.0zM239.4,160.9h1.0v1.0h-1.0zM241.3,158.0h1.0v1.0h-1.0zM237.3,174.8h1.0v1.0h-1.0zM244.0,162.8h1.0v1.0h-1.0zM235.7,173.1h1.0v1.0h-1.0zM241.9,163.8h1.0v1.0h-1.0zM237.9,165.2h1.0v1.0h-1.0zM236.6,165.3h1.0v1.0h-1.0zM243.0,172.1h1.0v1.0h-1.0zM245.0,168.3h1.0v1.0h-1.0zM239.3,163.8h1.0v1.0h-1.0zM239.4,162.1h1.0v1.0h-1.0zM235.1,172.2h1.0v1.0h-1.0zM243.4,172.9h1.0v1.0h-1.0zM243.2,170.0h1.0v1.0h-1.0zM237.8,169.1h1.0v1.0h-1.0z" fill="#5a62a8" fill-opacity="0.5"/>
<path d="M268.9,163.0h1.0v1.0h-1.0zM259.7,160.6h1.0v1.0h-1.0zM271.5,171.2h1.0v1.0h-1.0zM268.2,179.5h1.0v1.0h-1.0zM272.8,174.0h1.0v1.0h-1.0zM280.0,164.9h1.0v1.0h-1.0zM257.7,175.1h1.0v1.0h-1.0zM266.7,178.7h1.0v1.0h-1.0zM273.9,176.7h1.0v1.0h-1.0zM276.8,156.7h1.0v1.0h-1.0zM276.5,165.8h1.0v1.0h-1.0zM266.2,167.4h1.0v1.0h-1.0zM276.9,175.9h1.0v1.0h-1.0zM278.6,159.4h1.0v1.0h-1.0zM267.4,154.8h1.0v1.0h-1.0zM270.8,174.1h1.0v1.0h-1.0zM266.2,171.8h1.0v1.0h-1.0zM273.1,176.7h1.0v1.0h-1.0zM265.8,164.8h1.0v1.0h-1.0zM266.2,181.6h1.0v1.0h-1.0zM279.1,169.4h1.0v1.0h-1.0zM273.1,170.9h1.0v1.0h-1.0zM272.9,168.8h1.0v1.0h-1.0zM269.2,162.0h1.0v1.0h-1.0zM267.0,180.9h1.0v1.0h-1.0zM275.3,170.6h1.0v1.0h-1.0zM270.0,170.6h1.0v1.0h-1.0zM274.0,166.0h1.0v1.0h-1.0zM272.9,171.8h1.0v1.0h-1.0zM266.3,165.1h1.0v1.0h-1.0zM264.5,163.3h1.0v1.0h-1.0zM277.7,154.9h1.0v1.0h-1.0zM269.6,166.2h1.0v1.0h-1.0zM267.2,170.8h1.0v1.0h-1.0zM279.4,170.7h1.0v1.0h-1.0zM270.5,166.2h1.0v1.0h-1.0zM270.6,176.1h1.0v1.0h-1.0zM268.7,162.7h1.0v1.0h-1.0zM262.7,163.0h1.0v1.0h-1.0zM261.8,177.3h1.0v1.0h-1.0zM274.0,168.7h1.0v1.0h-1.0zM281.7,165.9h1.0v1.0h-1.0zM276.8,175.4h1.0v1.0h-1.0zM260.7,160.1h1.0v1.0h-1.0zM265.0,176.1h1.0v1.0h-1.0zM280.6,162.2h1.0v1.0h-1.0zM278.8,167.7h1.0v1.0h-1.0zM268.7,166.6h1.0v1.0h-1.0zM269.2,158.4h1.0v1.0h-1.0zM264.5,162.2h1.0v1.0h-1.0zM274.9,183.8h1.0v1.0h-1.0zM259.5,167.6h1.0v1.0h-1.0zM264.9,183.1h1.0v1.0h-1.0zM275.5,165.5h1.0v1.0h-1.0zM278.1,173.7h1.0v1.0h-1.0zM260.1,166.7h1.0v1.0h-1.0zM269.8,170.3h1.0v1.0h-1.0zM272.4,168.0h1.0v1.0h-1.0zM272.8,166.4h1.0v1.0h-1.0zM265.2,180.1h1.0v1.0h-1.0zM274.0,173.0h1.0v1.0h-1.0zM260.3,169.1h1.0v1.0h-1.0zM277.2,161.8h1.0v1.0h-1.0zM279.2,167.7h1.0v1.0h-1.0zM274.3,169.3h1.0v1.0h-1.0zM273.0,178.0h1.0v1.0h-1.0zM268.7,180.4h1.0v1.0h-1.0zM266.0,164.1h1.0v1.0h-1.0zM276.5,163.3h1.0v1.0h-1.0zM268.9,176.1h1.0v1.0h-1.0zM280.0,158.7h1.0v1.0h-1.0zM275.0,182.4h1.0v1.0h-1.0zM279.9,168.6h1.0v1.0h-1.0zM267.3,168.3h1.0v1.0h-1.0zM263.4,168.5h1.0v1.0h-1.0zM270.2,169.3h1.0v1.0h-1.0zM279.8,168.7h1.0v1.0h-1.0zM261.3,177.0h1.0v1.0h-1.0zM264.0,167.3h1.0v1.0h-1.0zM270.6,168.0h1.0v1.0h-1.0zM264.5,168.6h1.0v1.0h-1.0zM286.8,166.3h1.0v1.0h-1.0zM270.5,177.5h1.0v1.0h-1.0zM276.7,175.2h1.0v1.0h-1.0zM277.5,157.4h1.0v1.0h-1.0zM265.5,171.0h1.0v1.0h-1.0zM275.0,178.6h1.0v1.0h-1.0zM274.8,168.7h1.0v1.0h-1.0zM271.8,168.8h1.0v1.0h-1.0zM273.2,174.6h1.0v1.0h-1.0zM269.1,164.9h1.0v1.0h-1.0zM265.5,177.3h1.0v1.0h-1.0zM280.5,176.6h1.0v1.0h-1.0zM277.5,175.6h1.0v1.0h-1.0zM271.5,174.5h1.0v1.0h-1.0zM264.1,168.9h1.0v1.0h-1.0zM266.4,174.9h1.0v1.0h-1.0zM267.4,169.5h1.0v1.0h-1.0zM274.3,179.0h1.0v1.0h-1.0zM266.0,164.1h1.0v1.0h-1.0zM277.2,163.0h1.0v1.0h-1.0zM274.7,166.5h1.0v1.0h-1.0zM270.8,158.4h1.0v1.0h-1.0zM276.5,166.9h1.0v1.0h-1.0zM265.2,183.7h1.0v1.0h-1.0zM276.5,193.0h1.0v1.0h-1.0zM274.4,167.9h1.0v1.0h-1.0zM272.3,180.6h1.0v1.0h-1.0zM271.3,173.1h1.0v1.0h-1.0zM275.1,164.3h1.0v1.0h-1.0zM272.4,166.9h1.0v1.0h-1.0zM262.8,175.9h1.0v1.0h-1.0zM276.2,170.7h1.0v1.0h-1.0zM265.1,157.2h1.0v1.0h-1.0zM274.9,169.6h1.0v1.0h-1.0zM259.7,169.8h1.0v1.0h-1.0zM260.9,170.0h1.0v1.0h-1.0zM272.5,172.5h1.0v1.0h-1.0zM273.0,171.3h1.0v1.0h-1.0zM263.5,167.7h1.0v1.0h-1.0zM267.9,168.7h1.0v1.0h-1.0zM273.4,174.2h1.0v1.0h-1.0zM282.9,153.5h1.0v1.0h-1.0zM274.3,168.9h1.0v1.0h-1.0zM287.4,176.3h1.0v1.0h-1.0zM259.9,172.8h1.0v1.0h-1.0zM267.9,176.7h1.0v1.0h-1.0zM264.1,169.5h1.0v1.0h-1.0zM270.6,169.6h1.0v1.0h-1.0zM267.4,158.3h1.0v1.0h-1.0zM274.7,176.7h1.0v1.0h-1.0zM271.0,163.6h1.0v1.0h-1.0zM272.9,173.9h1.0v1.0h-1.0zM270.3,170.1h1.0v1.0h-1.0zM281.4,162.9h1.0v1.0h-1.0zM267.6,157.8h1.0v1.0h-1.0zM266.6,165.4h1.0v1.0h-1.0zM264.8,165.7h1.0v1.0h-1.0zM284.1,168.9h1.0v1.0h-1.0zM270.7,184.5h1.0v1.0h-1.0zM271.1,158.9h1.0v1.0h-1.0zM274.3,164.1h1.0v1.0h-1.0zM283.0,162.1h1.0v1.0h-1.0zM267.4,159.8h1.0v1.0h-1.0zM272.2,163.6h1.0v1.0h-1.0zM271.0,167.8h1.0v1.0h-1.0zM267.2,176.3h1.0v1.0h-1.0zM278.0,170.6h1.0v1.0h-1.0zM265.2,163.2h1.0v1.0h-1.0zM273.4,185.7h1.0v1.0h-1.0zM268.3,165.1h1.0v1.0h-1.0zM266.6,163.1h1.0v1.0h-1.0zM264.7,168.9h1.0v1.0h-1.0zM281.5,170.2h1.0v1.0h-1.0zM267.9,159.7h1.0v1.0h-1.0zM273.0,170.0h1.0v1.0h-1.0zM262.9,163.1h1.0v1.0h-1.0zM271.2,176.8h1.0v1.0h-1.0zM275.9,171.5h1.0v1.0h-1.0zM269.2,172.3h1.0v1.0h-1.0zM271.4,184.3h1.0v1.0h-1.0zM263.6,167.8h1.0v1.0h-1.0zM280.4,168.5h1.0v1.0h-1.0zM281.5,169.9h1.0v1.0h-1.0zM272.5,167.8h1.0v1.0h-1.0zM261.8,163.9h1.0v1.0h-1.0zM287.0,174.4h1.0v1.0h-1.0zM275.7,176.4h1.0v1.0h-1.0zM275.5,176.8h1.0v1.0h-1.0zM269.6,168.7h1.0v1.0h-1.0zM278.4,167.9h1.0v1.0h-1.0zM262.2,168.7h1.0v1.0h-1.0zM267.7,174.2h1.0v1.0h-1.0zM266.5,163.3h1.0v1.0h-1.0zM269.2,180.3h1.0v1.0h-1.0zM271.2,171.2h1.0v1.0h-1.0zM271.6,172.1h1.0v1.0h-1.0zM278.0,179.3h1.0v1.0h-1.0zM260.0,179.0h1.0v1.0h-1.0zM271.5,168.1h1.0v1.0h-1.0zM285.1,176.5h1.0v1.0h-1.0zM264.3,173.4h1.0v1.0h-1.0zM276.7,169.4h1.0v1.0h-1.0zM255.2,168.0h1.0v1.0h-1.0zM270.2,163.0h1.0v1.0h-1.0zM284.3,168.6h1.0v1.0h-1.0zM268.7,168.3h1.0v1.0h-1.0zM266.0,165.2h1.0v1.0h-1.0zM272.2,172.2h1.0v1.0h-1.0zM267.9,169.6h1.0v1.0h-1.0zM261.8,173.6h1.0v1.0h-1.0zM266.3,171.6h1.0v1.0h-1.0zM265.2,166.9h1.0v1.0h-1.0zM273.0,162.3h1.0v1.0h-1.0zM271.0,165.4h1.0v1.0h-1.0zM282.7,179.2h1.0v1.0h-1.0zM273.6,161.3h1.0v1.0h-1.0zM268.0,174.2h1.0v1.0h-1.0zM267.9,162.5h1.0v1.0h-1.0zM263.2,165.2h1.0v1.0h-1.0zM271.6,166.0h1.0v1.0h-1.0zM271.6,188.3h1.0v1.0h-1.0zM283.9,163.5h1.0v1.0h-1.0zM273.9,170.8h1.0v1.0h-1.0zM270.5,177.0h1.0v1.0h-1.0zM269.2,168.1h1.0v1.0h-1.0zM268.9,169.5h1.0v1.0h-1.0zM280.5,175.2h1.0v1.0h-1.0zM262.1,167.3h1.0v1.0h-1.0zM265.9,175.5h1.0v1.0h-1.0zM273.1,176.0h1.0v1.0h-1.0zM271.1,157.8h1.0v1.0h-1.0zM274.7,171.7h1.0v1.0h-1.0zM275.1,161.7h1.0v1.0h-1.0zM272.1,165.7h1.0v1.0h-1.0zM266.7,172.5h1.0v1.0h-1.0zM274.0,164.4h1.0v1.0h-1.0zM259.5,154.1h1.0v1.0h-1.0zM267.5,177.5h1.0v1.0h-1.0zM271.1,155.6h1.0v1.0h-1.0zM265.5,172.9h1.0v1.0h-1.0zM283.2,177.8h1.0v1.0h-1.0zM274.1,171.5h1.0v1.0h-1.0zM264.1,167.3h1.0v1.0h-1.0zM269.2,165.2h1.0v1.0h-1.0zM271.9,167.6h1.0v1.0h-1.0zM273.9,179.5h1.0v1.0h-1.0zM276.7,172.9h1.0v1.0h-1.0zM269.8,160.3h1.0v1.0h-1.0zM270.7,173.7h1.0v1.0h-1.0zM264.4,178.4h1.0v1.0h-1.0zM269.2,172.6h1.0v1.0h-1.0zM269.2,162.0h1.0v1.0h-1.0zM286.0,162.7h1.0v1.0h-1.0zM277.9,166.6h1.0v1.0h-1.0zM273.5,165.0h1.0v1.0h-1.0zM268.6,176.2h1.0v1.0h-1.0zM285.1,164.7h1.0v1.0h-1.0zM271.6,176.4h1.0v1.0h-1.0zM267.1,174.8h1.0v1.0h-1.0zM266.0,174.1h1.0v1.0h-1.0zM274.6,178.1h1.0v1.0h-1.0zM274.0,162.4h1.0v1.0h-1.0zM276.2,163.0h1.0v1.0h-1.0zM276.8,180.0h1.0v1.0h-1.0zM275.7,166.6h1.0v1.0h-1.0zM279.8,171.3h1.0v1.0h-1.0zM262.8,167.9h1.0v1.0h-1.0zM281.4,168.2h1.0v1.0h-1.0zM272.4,168.0h1.0v1.0h-1.0zM259.7,166.9h1.0v1.0h-1.0zM274.0,171.6h1.0v1.0h-1.0zM270.3,156.3h1.0v1.0h-1.0zM280.1,174.9h1.0v1.0h-1.0zM278.7,178.7h1.0v1.0h-1.0zM268.4,166.3h1.0v1.0h-1.0zM273.7,181.1h1.0v1.0h-1.0z" fill="#5a62a8" fill-opacity="0.5"/>
<path d="M235.1,195.6h1.0v1.0h-1.0zM238.6,198.4h1.0v1.0h-1.0zM246.5,195.3h1.0v1.0h-1.0zM236.7,196.6h1.0v1.0h-1.0zM240.2,190.8h1.0v1.0h-1.0zM244.4,194.5h1.0v1.0h-1.0zM243.7,191.7h1.0v1.0h-1.0zM245.1,191.2h1.0v1.0h-1.0zM245.0,189.9h1.0v1.0h-1.0zM246.2,195.1h1.0v1.0h-1.0zM235.6,195.6h1.0v1.0h-1.0zM242.4,192.8h1.0v1.0h-1.0zM239.4,197.4h1.0v1.0h-1.0zM240.6,185.4h1.0v1.0h-1.0zM239.7,197.9h1.0v1.0h-1.0zM242.3,200.0h1.0v1.0h-1.0zM244.1,197.5h1.0v1.0h-1.0zM245.1,199.8h1.0v1.0h-1.0zM241.6,194.2h1.0v1.0h-1.0zM244.9,197.9h1.0v1.0h-1.0zM234.4,192.4h1.0v1.0h-1.0zM242.9,196.8h1.0v1.0h-1.0zM242.2,198.7h1.0v1.0h-1.0zM241.7,202.1h1.0v1.0h-1.0zM239.1,195.0h1.0v1.0h-1.0zM242.4,199.1h1.0v1.0h-1.0zM244.0,201.8h1.0v1.0h-1.0zM239.5,200.6h1.0v1.0h-1.0zM242.9,192.6h1.0v1.0h-1.0zM244.0,194.7h1.0v1.0h-1.0zM238.7,196.7h1.0v1.0h-1.0zM249.5,199.1h1.0v1.0h-1.0zM242.3,193.0h1.0v1.0h-1.0zM236.9,195.7h1.0v1.0h-1.0zM239.7,194.2h1.0v1.0h-1.0zM245.3,196.7h1.0v1.0h-1.0zM236.8,201.0h1.0v1.0h-1.0zM240.1,191.6h1.0v1.0h-1.0zM242.4,198.2h1.0v1.0h-1.0zM240.0,198.9h1.0v1.0h-1.0zM244.2,193.2h1.0v1.0h-1.0zM233.8,187.8h1.0v1.0h-1.0zM240.7,200.8h1.0v1.0h-1.0zM244.8,201.4h1.0v1.0h-1.0zM247.9,196.5h1.0v1.0h-1.0zM245.0,190.9h1.0v1.0h-1.0zM243.7,197.8h1.0v1.0h-1.0zM240.9,194.8h1.0v1.0h-1.0zM237.2,196.9h1.0v1.0h-1.0zM245.8,195.1h1.0v1.0h-1.0zM243.1,194.0h1.0v1.0h-1.0zM242.1,192.8h1.0v1.0h-1.0zM242.6,195.6h1.0v1.0h-1.0zM242.3,194.2h1.0v1.0h-1.0zM237.0,195.2h1.0v1.0h-1.0zM244.9,202.1h1.0v1.0h-1.0zM240.0,199.3h1.0v1.0h-1.0zM243.9,197.8h1.0v1.0h-1.0zM235.6,197.6h1.0v1.0h-1.0zM237.7,200.6h1.0v1.0h-1.0zM244.0,198.6h1.0v1.0h-1.0zM243.7,191.8h1.0v1.0h-1.0zM244.7,196.7h1.0v1.0h-1.0zM240.5,193.8h1.0v1.0h-1.0zM237.5,194.8h1.0v1.0h-1.0zM252.3,197.1h1.0v1.0h-1.0zM241.9,194.1h1.0v1.0h-1.0zM239.0,194.4h1.0v1.0h-1.0zM238.0,199.6h1.0v1.0h-1.0zM240.2,199.5h1.0v1.0h-1.0zM237.0,199.7h1.0v1.0h-1.0zM241.1,198.8h1.0v1.0h-1.0zM240.8,193.2h1.0v1.0h-1.0zM245.6,194.8h1.0v1.0h-1.0zM240.7,193.2h1.0v1.0h-1.0zM241.9,195.0h1.0v1.0h-1.0zM242.2,197.6h1.0v1.0h-1.0zM238.7,191.3h1.0v1.0h-1.0zM242.8,199.7h1.0v1.0h-1.0zM243.7,192.3h1.0v1.0h-1.0zM243.4,197.8h1.0v1.0h-1.0zM242.2,197.9h1.0v1.0h-1.0zM240.0,197.2h1.0v1.0h-1.0zM244.5,194.6h1.0v1.0h-1.0zM236.0,196.0h1.0v1.0h-1.0zM241.9,189.8h1.0v1.0h-1.0zM238.8,198.5h1.0v1.0h-1.0zM240.7,196.7h1.0v1.0h-1.0zM236.7,199.7h1.0v1.0h-1.0zM247.5,195.7h1.0v1.0h-1.0zM238.6,192.2h1.0v1.0h-1.0zM244.4,196.8h1.0v1.0h-1.0zM238.3,200.8h1.0v1.0h-1.0zM244.0,198.6h1.0v1.0h-1.0zM234.9,196.0h1.0v1.0h-1.0z" fill="#5a62a8" fill-opacity="0.5"/>
<path d="M280.8,194.8h1.0v1.0h-1.0zM255.4,197.7h1.0v1.0h-1.0zM283.8,193.6h1.0v1.0h-1.0zM262.8,192.8h1.0v1.0h-1.0zM254.8,196.7h1.0v1.0h-1.0zM287.0,193.0h1.0v1.0h-1.0zM276.7,199.0h1.0v1.0h-1.0zM256.9,201.0h1.0v1.0h-1.0zM273.3,187.2h1.0v1.0h-1.0zM252.6,188.0h1.0v1.0h-1.0zM271.4,196.4h1.0v1.0h-1.0zM261.9,200.7h1.0v1.0h-1.0zM263.2,192.1h1.0v1.0h-1.0zM254.1,201.5h1.0v1.0h-1.0zM254.6,200.2h1.0v1.0h-1.0zM270.1,193.9h1.0v1.0h-1.0zM270.7,188.4h1.0v1.0h-1.0zM284.0,201.9h1.0v1.0h-1.0zM280.5,194.6h1.0v1.0h-1.0zM254.1,198.8h1.0v1.0h-1.0zM260.4,200.1h1.0v1.0h-1.0zM258.6,194.1h1.0v1.0h-1.0zM281.1,186.9h1.0v1.0h-1.0zM270.3,184.9h1.0v1.0h-1.0zM250.6,186.8h1.0v1.0h-1.0zM287.0,200.9h1.0v1.0h-1.0zM274.5,189.2h1.0v1.0h-1.0zM275.0,197.1h1.0v1.0h-1.0zM263.9,194.5h1.0v1.0h-1.0zM280.0,183.8h1.0v1.0h-1.0zM257.0,192.2h1.0v1.0h-1.0zM254.8,190.6h1.0v1.0h-1.0zM271.1,186.7h1.0v1.0h-1.0zM269.2,188.4h1.0v1.0h-1.0zM271.0,189.6h1.0v1.0h-1.0zM273.8,184.2h1.0v1.0h-1.0zM275.0,186.2h1.0v1.0h-1.0zM286.0,194.6h1.0v1.0h-1.0zM267.3,191.1h1.0v1.0h-1.0zM273.2,196.3h1.0v1.0h-1.0zM278.3,197.4h1.0v1.0h-1.0zM267.9,201.9h1.0v1.0h-1.0zM281.3,199.3h1.0v1.0h-1.0zM265.0,191.5h1.0v1.0h-1.0zM271.0,200.2h1.0v1.0h-1.0zM269.4,193.2h1.0v1.0h-1.0zM265.9,200.2h1.0v1.0h-1.0zM261.6,184.5h1.0v1.0h-1.0zM277.0,200.2h1.0v1.0h-1.0zM277.3,194.6h1.0v1.0h-1.0z" fill="#6068a8" fill-opacity="0.45"/>
<path d="M274.1,158.1h1.0v1.0h-1.0zM265.5,150.2h1.0v1.0h-1.0zM240.0,162.9h1.0v1.0h-1.0zM260.5,161.2h1.0v1.0h-1.0zM236.1,171.2h1.0v1.0h-1.0zM261.8,155.9h1.0v1.0h-1.0zM249.9,161.1h1.0v1.0h-1.0zM246.1,150.1h1.0v1.0h-1.0zM282.7,180.4h1.0v1.0h-1.0zM269.4,177.0h1.0v1.0h-1.0zM256.1,174.9h1.0v1.0h-1.0zM245.3,173.0h1.0v1.0h-1.0zM264.0,178.2h1.0v1.0h-1.0zM238.6,174.5h1.0v1.0h-1.0zM240.0,165.9h1.0v1.0h-1.0zM284.8,147.8h1.0v1.0h-1.0zM246.5,157.9h1.0v1.0h-1.0zM250.9,149.9h1.0v1.0h-1.0zM281.8,175.3h1.0v1.0h-1.0zM254.8,159.8h1.0v1.0h-1.0zM265.0,149.3h1.0v1.0h-1.0zM235.0,178.1h1.0v1.0h-1.0zM250.0,164.6h1.0v1.0h-1.0zM283.9,180.7h1.0v1.0h-1.0zM258.9,154.8h1.0v1.0h-1.0zM249.3,178.9h1.0v1.0h-1.0zM281.9,154.4h1.0v1.0h-1.0zM278.7,159.7h1.0v1.0h-1.0zM258.9,153.6h1.0v1.0h-1.0zM281.0,181.3h1.0v1.0h-1.0zM244.2,169.1h1.0v1.0h-1.0zM243.7,177.5h1.0v1.0h-1.0zM236.0,151.4h1.0v1.0h-1.0zM272.6,158.3h1.0v1.0h-1.0zM282.1,177.1h1.0v1.0h-1.0zM272.0,152.3h1.0v1.0h-1.0zM271.0,179.4h1.0v1.0h-1.0zM257.4,150.5h1.0v1.0h-1.0zM245.4,158.2h1.0v1.0h-1.0zM271.8,154.4h1.0v1.0h-1.0zM243.1,155.7h1.0v1.0h-1.0zM269.3,174.4h1.0v1.0h-1.0zM253.5,170.1h1.0v1.0h-1.0zM281.2,167.7h1.0v1.0h-1.0zM245.7,157.9h1.0v1.0h-1.0zM283.5,170.3h1.0v1.0h-1.0zM248.3,169.4h1.0v1.0h-1.0zM238.2,180.9h1.0v1.0h-1.0zM257.2,165.6h1.0v1.0h-1.0zM262.1,149.3h1.0v1.0h-1.0zM265.8,157.4h1.0v1.0h-1.0zM246.9,174.9h1.0v1.0h-1.0zM238.0,157.4h1.0v1.0h-1.0zM274.3,156.1h1.0v1.0h-1.0zM248.4,166.3h1.0v1.0h-1.0zM243.4,178.0h1.0v1.0h-1.0zM286.8,148.9h1.0v1.0h-1.0zM258.3,173.1h1.0v1.0h-1.0zM254.2,179.1h1.0v1.0h-1.0zM260.4,153.9h1.0v1.0h-1.0z" fill="#6068a8" fill-opacity="0.45"/>
</g>
<text x="256.30" y="153.40" font-size="4.40" font-weight="normal" fill="#333" textLength="20.70" lengthAdjust="spacingAndGlyphs"  style="stroke-width:0.05px">WT to WT</text>
<rect x="232.10" y="216.00" width="56.90" height="56.50" fill="none" stroke="#888" stroke-width="0.7" />
<line x1="249.50" y1="216.00" x2="249.50" y2="272.50" stroke="#888" stroke-width="0.7" />
<line x1="232.10" y1="251.80" x2="289.00" y2="251.80" stroke="#888" stroke-width="0.7" />
<text x="230.9" y="273.5" font-size="3.0" fill="#666" text-anchor="end" style="stroke-width:0.05px">10<tspan dy="-1" font-size="2">0</tspan></text>
<text x="232.1" y="277.5" font-size="3.0" fill="#666" text-anchor="middle" style="stroke-width:0.05px">10<tspan dy="-1" font-size="2">0</tspan></text>
<text x="230.9" y="259.4" font-size="3.0" fill="#666" text-anchor="end" style="stroke-width:0.05px">10<tspan dy="-1" font-size="2">1</tspan></text>
<text x="246.3" y="277.5" font-size="3.0" fill="#666" text-anchor="middle" style="stroke-width:0.05px">10<tspan dy="-1" font-size="2">1</tspan></text>
<text x="230.9" y="245.2" font-size="3.0" fill="#666" text-anchor="end" style="stroke-width:0.05px">10<tspan dy="-1" font-size="2">2</tspan></text>
<text x="260.6" y="277.5" font-size="3.0" fill="#666" text-anchor="middle" style="stroke-width:0.05px">10<tspan dy="-1" font-size="2">2</tspan></text>
<text x="230.9" y="231.1" font-size="3.0" fill="#666" text-anchor="end" style="stroke-width:0.05px">10<tspan dy="-1" font-size="2">3</tspan></text>
<text x="274.8" y="277.5" font-size="3.0" fill="#666" text-anchor="middle" style="stroke-width:0.05px">10<tspan dy="-1" font-size="2">3</tspan></text>
<text x="230.9" y="217.0" font-size="3.0" fill="#666" text-anchor="end" style="stroke-width:0.05px">10<tspan dy="-1" font-size="2">4</tspan></text>
<text x="289.0" y="277.5" font-size="3.0" fill="#666" text-anchor="middle" style="stroke-width:0.05px">10<tspan dy="-1" font-size="2">4</tspan></text>
<g filter="url(#dotblur)">
<path d="M236.6,234.1h1.0v1.0h-1.0zM237.9,240.0h1.0v1.0h-1.0zM241.7,231.7h1.0v1.0h-1.0zM234.7,235.7h1.0v1.0h-1.0zM239.3,231.9h1.0v1.0h-1.0zM242.8,235.2h1.0v1.0h-1.0zM241.3,233.8h1.0v1.0h-1.0zM239.1,234.2h1.0v1.0h-1.0zM235.8,238.2h1.0v1.0h-1.0zM242.2,229.7h1.0v1.0h-1.0zM241.2,240.1h1.0v1.0h-1.0zM241.7,240.6h1.0v1.0h-1.0zM240.0,235.9h1.0v1.0h-1.0zM236.7,232.6h1.0v1.0h-1.0zM235.1,232.7h1.0v1.0h-1.0zM241.7,237.8h1.0v1.0h-1.0zM244.6,236.4h1.0v1.0h-1.0zM237.7,237.5h1.0v1.0h-1.0zM240.4,242.3h1.0v1.0h-1.0zM247.2,239.4h1.0v1.0h-1.0zM237.3,234.0h1.0v1.0h-1.0zM241.5,233.3h1.0v1.0h-1.0zM242.6,238.4h1.0v1.0h-1.0zM243.6,236.7h1.0v1.0h-1.0zM238.1,232.9h1.0v1.0h-1.0zM240.5,240.7h1.0v1.0h-1.0zM245.9,239.4h1.0v1.0h-1.0zM242.1,238.3h1.0v1.0h-1.0zM243.5,240.6h1.0v1.0h-1.0zM243.6,230.4h1.0v1.0h-1.0zM244.0,237.3h1.0v1.0h-1.0zM239.4,237.8h1.0v1.0h-1.0zM241.8,235.7h1.0v1.0h-1.0zM235.5,236.3h1.0v1.0h-1.0zM242.7,235.7h1.0v1.0h-1.0zM235.8,237.5h1.0v1.0h-1.0zM243.2,236.6h1.0v1.0h-1.0zM242.3,234.6h1.0v1.0h-1.0zM238.8,237.8h1.0v1.0h-1.0zM239.8,236.6h1.0v1.0h-1.0zM251.3,238.5h1.0v1.0h-1.0zM241.3,230.1h1.0v1.0h-1.0zM241.2,238.6h1.0v1.0h-1.0zM238.6,235.0h1.0v1.0h-1.0zM233.7,237.9h1.0v1.0h-1.0zM239.0,238.4h1.0v1.0h-1.0zM245.3,235.3h1.0v1.0h-1.0zM244.1,236.8h1.0v1.0h-1.0zM240.2,234.9h1.0v1.0h-1.0zM238.2,240.5h1.0v1.0h-1.0zM243.7,232.3h1.0v1.0h-1.0zM243.6,233.3h1.0v1.0h-1.0zM236.1,240.2h1.0v1.0h-1.0zM236.8,240.2h1.0v1.0h-1.0zM241.5,239.1h1.0v1.0h-1.0zM242.5,240.1h1.0v1.0h-1.0zM242.0,238.0h1.0v1.0h-1.0zM241.7,239.8h1.0v1.0h-1.0zM239.6,239.6h1.0v1.0h-1.0zM245.7,235.7h1.0v1.0h-1.0zM242.3,234.1h1.0v1.0h-1.0zM240.0,236.8h1.0v1.0h-1.0zM239.8,232.7h1.0v1.0h-1.0zM240.8,236.6h1.0v1.0h-1.0zM241.9,238.5h1.0v1.0h-1.0zM235.2,241.0h1.0v1.0h-1.0zM240.4,233.1h1.0v1.0h-1.0zM239.7,237.5h1.0v1.0h-1.0zM243.7,234.6h1.0v1.0h-1.0zM241.4,230.2h1.0v1.0h-1.0zM241.4,235.5h1.0v1.0h-1.0zM239.5,239.1h1.0v1.0h-1.0zM246.6,239.6h1.0v1.0h-1.0zM238.4,241.4h1.0v1.0h-1.0zM239.8,235.8h1.0v1.0h-1.0zM239.0,237.5h1.0v1.0h-1.0zM242.7,236.4h1.0v1.0h-1.0zM240.2,235.4h1.0v1.0h-1.0zM239.6,239.4h1.0v1.0h-1.0zM239.2,235.4h1.0v1.0h-1.0zM240.2,233.2h1.0v1.0h-1.0zM240.2,230.6h1.0v1.0h-1.0zM242.2,237.8h1.0v1.0h-1.0zM239.9,241.5h1.0v1.0h-1.0zM238.3,237.9h1.0v1.0h-1.0zM242.4,234.0h1.0v1.0h-1.0zM240.1,239.1h1.0v1.0h-1.0zM241.1,236.9h1.0v1.0h-1.0zM245.4,236.7h1.0v1.0h-1.0zM235.6,233.3h1.0v1.0h-1.0zM243.6,235.4h1.0v1.0h-1.0zM237.5,228.8h1.0v1.0h-1.0zM241.9,241.3h1.0v1.0h-1.0zM236.9,228.1h1.0v1.0h-1.0zM242.5,234.0h1.0v1.0h-1.0zM240.0,234.7h1.0v1.0h-1.0zM238.0,237.5h1.0v1.0h-1.0zM243.8,237.2h1.0v1.0h-1.0zM239.1,239.6h1.0v1.0h-1.0zM240.5,238.0h1.0v1.0h-1.0zM237.9,238.3h1.0v1.0h-1.0zM243.3,240.5h1.0v1.0h-1.0zM241.0,237.5h1.0v1.0h-1.0zM239.1,239.1h1.0v1.0h-1.0zM243.4,239.8h1.0v1.0h-1.0zM239.7,231.5h1.0v1.0h-1.0zM240.7,235.2h1.0v1.0h-1.0zM238.5,238.1h1.0v1.0h-1.0zM243.9,237.3h1.0v1.0h-1.0zM244.4,237.3h1.0v1.0h-1.0zM237.8,233.8h1.0v1.0h-1.0zM239.8,238.3h1.0v1.0h-1.0zM243.8,236.4h1.0v1.0h-1.0zM244.1,233.0h1.0v1.0h-1.0zM240.5,241.2h1.0v1.0h-1.0zM242.3,239.6h1.0v1.0h-1.0zM234.9,230.0h1.0v1.0h-1.0zM238.2,239.5h1.0v1.0h-1.0zM246.0,233.7h1.0v1.0h-1.0zM237.8,232.3h1.0v1.0h-1.0zM238.1,237.9h1.0v1.0h-1.0zM239.9,242.6h1.0v1.0h-1.0zM243.2,233.5h1.0v1.0h-1.0zM241.7,235.4h1.0v1.0h-1.0zM243.4,239.1h1.0v1.0h-1.0zM239.8,239.1h1.0v1.0h-1.0zM242.7,235.6h1.0v1.0h-1.0zM241.7,238.3h1.0v1.0h-1.0zM239.9,233.5h1.0v1.0h-1.0zM244.9,235.9h1.0v1.0h-1.0zM239.0,237.5h1.0v1.0h-1.0zM236.3,236.1h1.0v1.0h-1.0zM236.6,234.4h1.0v1.0h-1.0zM235.3,233.4h1.0v1.0h-1.0zM243.7,235.3h1.0v1.0h-1.0zM237.1,242.1h1.0v1.0h-1.0zM238.9,241.2h1.0v1.0h-1.0zM239.3,230.7h1.0v1.0h-1.0zM246.7,234.4h1.0v1.0h-1.0zM243.3,240.1h1.0v1.0h-1.0zM236.8,236.2h1.0v1.0h-1.0zM239.1,238.1h1.0v1.0h-1.0zM240.9,231.5h1.0v1.0h-1.0zM241.1,238.6h1.0v1.0h-1.0zM240.0,237.9h1.0v1.0h-1.0zM239.2,235.7h1.0v1.0h-1.0zM242.0,236.4h1.0v1.0h-1.0zM244.9,239.3h1.0v1.0h-1.0zM243.6,238.5h1.0v1.0h-1.0zM241.4,231.8h1.0v1.0h-1.0zM244.3,242.1h1.0v1.0h-1.0zM241.6,235.0h1.0v1.0h-1.0zM240.8,240.2h1.0v1.0h-1.0zM241.8,232.5h1.0v1.0h-1.0zM240.4,233.2h1.0v1.0h-1.0zM240.3,232.8h1.0v1.0h-1.0zM238.2,241.2h1.0v1.0h-1.0zM244.2,230.3h1.0v1.0h-1.0zM237.9,234.4h1.0v1.0h-1.0zM239.7,231.1h1.0v1.0h-1.0zM243.7,230.2h1.0v1.0h-1.0zM243.1,238.4h1.0v1.0h-1.0zM239.8,233.6h1.0v1.0h-1.0zM241.1,236.4h1.0v1.0h-1.0zM234.4,231.5h1.0v1.0h-1.0zM242.6,235.5h1.0v1.0h-1.0zM239.6,232.4h1.0v1.0h-1.0zM238.7,233.2h1.0v1.0h-1.0zM249.7,231.5h1.0v1.0h-1.0zM245.7,237.6h1.0v1.0h-1.0zM241.6,236.6h1.0v1.0h-1.0zM239.7,241.6h1.0v1.0h-1.0zM242.5,235.8h1.0v1.0h-1.0zM240.5,236.6h1.0v1.0h-1.0zM237.4,234.8h1.0v1.0h-1.0zM239.0,238.1h1.0v1.0h-1.0zM242.8,229.4h1.0v1.0h-1.0zM240.2,239.4h1.0v1.0h-1.0zM236.9,231.8h1.0v1.0h-1.0zM244.1,235.5h1.0v1.0h-1.0zM239.5,231.7h1.0v1.0h-1.0zM241.5,234.0h1.0v1.0h-1.0zM241.6,237.4h1.0v1.0h-1.0zM243.1,234.8h1.0v1.0h-1.0zM239.3,236.0h1.0v1.0h-1.0zM240.6,236.5h1.0v1.0h-1.0zM239.3,235.1h1.0v1.0h-1.0zM239.1,233.9h1.0v1.0h-1.0zM241.4,240.0h1.0v1.0h-1.0zM239.2,238.0h1.0v1.0h-1.0zM242.0,236.3h1.0v1.0h-1.0zM243.1,234.0h1.0v1.0h-1.0zM242.7,237.0h1.0v1.0h-1.0zM242.8,242.8h1.0v1.0h-1.0zM237.6,236.3h1.0v1.0h-1.0zM242.0,232.5h1.0v1.0h-1.0zM244.7,237.5h1.0v1.0h-1.0zM238.4,231.7h1.0v1.0h-1.0zM239.6,244.3h1.0v1.0h-1.0z" fill="#5a62a8" fill-opacity="0.5"/>
<path d="M285.9,224.9h1.0v1.0h-1.0zM256.7,239.7h1.0v1.0h-1.0zM269.3,233.6h1.0v1.0h-1.0zM274.5,237.0h1.0v1.0h-1.0zM272.2,237.8h1.0v1.0h-1.0zM262.1,242.7h1.0v1.0h-1.0zM266.7,241.9h1.0v1.0h-1.0zM275.1,236.7h1.0v1.0h-1.0zM271.1,236.3h1.0v1.0h-1.0zM256.5,235.0h1.0v1.0h-1.0zM273.2,228.9h1.0v1.0h-1.0zM259.1,241.6h1.0v1.0h-1.0zM276.0,229.3h1.0v1.0h-1.0zM273.4,236.3h1.0v1.0h-1.0zM277.2,235.0h1.0v1.0h-1.0zM268.4,233.0h1.0v1.0h-1.0zM271.4,235.9h1.0v1.0h-1.0zM265.2,234.9h1.0v1.0h-1.0zM264.5,239.5h1.0v1.0h-1.0zM262.4,229.2h1.0v1.0h-1.0zM262.9,241.6h1.0v1.0h-1.0zM266.3,239.6h1.0v1.0h-1.0zM275.5,234.1h1.0v1.0h-1.0zM275.6,238.9h1.0v1.0h-1.0zM269.7,233.2h1.0v1.0h-1.0zM269.6,230.5h1.0v1.0h-1.0zM268.0,233.8h1.0v1.0h-1.0zM273.3,238.1h1.0v1.0h-1.0zM265.3,240.6h1.0v1.0h-1.0zM278.8,236.8h1.0v1.0h-1.0zM264.6,238.9h1.0v1.0h-1.0zM252.0,233.8h1.0v1.0h-1.0zM274.3,246.0h1.0v1.0h-1.0zM264.6,243.8h1.0v1.0h-1.0zM287.3,245.4h1.0v1.0h-1.0zM252.6,241.7h1.0v1.0h-1.0zM271.5,241.3h1.0v1.0h-1.0zM268.7,233.6h1.0v1.0h-1.0zM268.3,243.6h1.0v1.0h-1.0zM276.3,235.1h1.0v1.0h-1.0zM272.9,240.6h1.0v1.0h-1.0zM274.2,236.3h1.0v1.0h-1.0zM265.2,233.0h1.0v1.0h-1.0zM266.8,233.9h1.0v1.0h-1.0zM258.3,229.8h1.0v1.0h-1.0zM276.5,231.2h1.0v1.0h-1.0zM260.3,236.3h1.0v1.0h-1.0zM280.8,242.5h1.0v1.0h-1.0zM267.0,231.6h1.0v1.0h-1.0zM266.0,232.2h1.0v1.0h-1.0zM265.9,238.8h1.0v1.0h-1.0zM262.1,232.8h1.0v1.0h-1.0zM268.1,236.4h1.0v1.0h-1.0zM264.3,232.8h1.0v1.0h-1.0zM261.6,232.9h1.0v1.0h-1.0zM273.9,235.4h1.0v1.0h-1.0zM246.9,239.5h1.0v1.0h-1.0zM269.5,232.4h1.0v1.0h-1.0zM268.1,222.1h1.0v1.0h-1.0zM257.7,242.1h1.0v1.0h-1.0zM285.9,246.9h1.0v1.0h-1.0zM264.5,236.7h1.0v1.0h-1.0zM275.8,230.6h1.0v1.0h-1.0zM283.0,233.1h1.0v1.0h-1.0zM272.6,231.0h1.0v1.0h-1.0zM272.7,236.4h1.0v1.0h-1.0zM278.1,231.0h1.0v1.0h-1.0zM269.9,245.2h1.0v1.0h-1.0zM261.1,238.2h1.0v1.0h-1.0zM273.3,234.1h1.0v1.0h-1.0zM268.0,243.3h1.0v1.0h-1.0zM278.5,239.2h1.0v1.0h-1.0zM272.0,231.1h1.0v1.0h-1.0zM270.7,245.1h1.0v1.0h-1.0zM277.9,230.0h1.0v1.0h-1.0zM254.5,233.3h1.0v1.0h-1.0zM271.2,233.9h1.0v1.0h-1.0zM267.7,238.1h1.0v1.0h-1.0zM276.7,237.5h1.0v1.0h-1.0zM279.4,229.7h1.0v1.0h-1.0zM273.5,238.5h1.0v1.0h-1.0zM258.8,242.5h1.0v1.0h-1.0zM258.0,229.6h1.0v1.0h-1.0zM272.8,243.0h1.0v1.0h-1.0zM278.6,231.1h1.0v1.0h-1.0zM273.6,243.2h1.0v1.0h-1.0zM268.8,236.9h1.0v1.0h-1.0zM266.5,240.0h1.0v1.0h-1.0zM265.8,233.7h1.0v1.0h-1.0zM260.8,232.0h1.0v1.0h-1.0zM271.7,238.8h1.0v1.0h-1.0zM267.1,231.5h1.0v1.0h-1.0zM272.6,238.2h1.0v1.0h-1.0zM279.6,234.1h1.0v1.0h-1.0zM266.9,239.0h1.0v1.0h-1.0zM281.5,236.3h1.0v1.0h-1.0zM269.4,232.0h1.0v1.0h-1.0zM267.2,241.1h1.0v1.0h-1.0zM276.4,241.9h1.0v1.0h-1.0zM257.6,240.6h1.0v1.0h-1.0zM263.0,239.4h1.0v1.0h-1.0zM252.1,236.0h1.0v1.0h-1.0zM263.3,242.7h1.0v1.0h-1.0zM270.9,242.8h1.0v1.0h-1.0zM266.7,246.0h1.0v1.0h-1.0zM266.7,245.7h1.0v1.0h-1.0zM266.3,231.8h1.0v1.0h-1.0zM276.8,234.6h1.0v1.0h-1.0zM269.6,230.0h1.0v1.0h-1.0zM267.4,237.1h1.0v1.0h-1.0zM264.7,238.4h1.0v1.0h-1.0zM252.6,240.8h1.0v1.0h-1.0zM266.9,243.6h1.0v1.0h-1.0zM267.4,233.3h1.0v1.0h-1.0zM266.6,237.8h1.0v1.0h-1.0zM274.5,234.3h1.0v1.0h-1.0zM264.0,238.6h1.0v1.0h-1.0zM276.3,228.0h1.0v1.0h-1.0zM262.1,233.2h1.0v1.0h-1.0zM283.0,242.5h1.0v1.0h-1.0zM276.1,238.9h1.0v1.0h-1.0zM261.5,242.0h1.0v1.0h-1.0zM266.7,232.6h1.0v1.0h-1.0zM284.7,229.5h1.0v1.0h-1.0zM280.5,237.5h1.0v1.0h-1.0zM263.0,237.4h1.0v1.0h-1.0zM263.6,237.4h1.0v1.0h-1.0zM265.1,230.7h1.0v1.0h-1.0zM277.5,236.3h1.0v1.0h-1.0zM275.2,230.4h1.0v1.0h-1.0zM262.1,220.6h1.0v1.0h-1.0zM277.6,238.7h1.0v1.0h-1.0zM261.1,240.6h1.0v1.0h-1.0zM274.5,250.7h1.0v1.0h-1.0zM271.8,241.0h1.0v1.0h-1.0zM274.7,240.3h1.0v1.0h-1.0zM269.8,234.5h1.0v1.0h-1.0zM275.4,242.5h1.0v1.0h-1.0zM261.2,231.0h1.0v1.0h-1.0zM269.7,245.3h1.0v1.0h-1.0zM268.4,228.3h1.0v1.0h-1.0zM276.2,240.2h1.0v1.0h-1.0zM284.8,237.4h1.0v1.0h-1.0zM285.0,233.0h1.0v1.0h-1.0zM276.9,237.2h1.0v1.0h-1.0zM261.0,235.2h1.0v1.0h-1.0zM280.1,241.9h1.0v1.0h-1.0zM267.2,241.9h1.0v1.0h-1.0zM276.9,240.9h1.0v1.0h-1.0zM272.2,238.0h1.0v1.0h-1.0zM263.8,236.2h1.0v1.0h-1.0zM271.0,232.9h1.0v1.0h-1.0zM267.9,237.3h1.0v1.0h-1.0zM271.7,241.7h1.0v1.0h-1.0zM262.2,234.6h1.0v1.0h-1.0zM272.1,234.7h1.0v1.0h-1.0zM272.6,234.2h1.0v1.0h-1.0zM279.0,235.4h1.0v1.0h-1.0zM261.4,240.2h1.0v1.0h-1.0zM282.7,227.2h1.0v1.0h-1.0zM269.1,236.9h1.0v1.0h-1.0zM277.9,243.8h1.0v1.0h-1.0zM268.8,229.0h1.0v1.0h-1.0zM275.1,241.4h1.0v1.0h-1.0zM273.6,236.9h1.0v1.0h-1.0zM263.9,248.4h1.0v1.0h-1.0zM260.9,229.2h1.0v1.0h-1.0zM277.5,237.9h1.0v1.0h-1.0zM275.1,238.3h1.0v1.0h-1.0zM282.8,243.4h1.0v1.0h-1.0zM265.9,241.4h1.0v1.0h-1.0zM261.1,228.2h1.0v1.0h-1.0zM279.2,234.4h1.0v1.0h-1.0zM253.8,236.4h1.0v1.0h-1.0zM265.0,239.0h1.0v1.0h-1.0zM269.6,232.8h1.0v1.0h-1.0zM264.6,240.3h1.0v1.0h-1.0zM263.0,237.2h1.0v1.0h-1.0zM262.6,238.7h1.0v1.0h-1.0zM283.6,239.3h1.0v1.0h-1.0zM278.5,238.7h1.0v1.0h-1.0zM262.8,235.1h1.0v1.0h-1.0zM270.6,238.7h1.0v1.0h-1.0zM265.5,239.5h1.0v1.0h-1.0zM264.6,236.8h1.0v1.0h-1.0zM270.0,231.0h1.0v1.0h-1.0zM277.7,236.8h1.0v1.0h-1.0zM270.9,236.4h1.0v1.0h-1.0zM254.1,229.7h1.0v1.0h-1.0zM263.3,241.3h1.0v1.0h-1.0zM265.7,239.5h1.0v1.0h-1.0zM262.3,232.4h1.0v1.0h-1.0zM266.5,241.7h1.0v1.0h-1.0zM257.5,235.7h1.0v1.0h-1.0zM273.1,237.2h1.0v1.0h-1.0zM269.9,240.3h1.0v1.0h-1.0zM272.2,231.7h1.0v1.0h-1.0zM274.9,232.7h1.0v1.0h-1.0zM267.5,243.6h1.0v1.0h-1.0zM273.3,232.8h1.0v1.0h-1.0zM264.3,244.6h1.0v1.0h-1.0zM272.6,229.8h1.0v1.0h-1.0zM281.9,239.3h1.0v1.0h-1.0zM280.0,238.5h1.0v1.0h-1.0zM253.7,233.0h1.0v1.0h-1.0zM269.0,235.7h1.0v1.0h-1.0zM281.5,233.3h1.0v1.0h-1.0zM269.3,236.3h1.0v1.0h-1.0zM269.4,231.5h1.0v1.0h-1.0zM260.8,224.1h1.0v1.0h-1.0zM272.6,235.6h1.0v1.0h-1.0zM271.6,231.4h1.0v1.0h-1.0zM270.1,231.8h1.0v1.0h-1.0zM262.4,238.2h1.0v1.0h-1.0zM274.9,239.3h1.0v1.0h-1.0zM269.7,234.7h1.0v1.0h-1.0zM280.6,242.6h1.0v1.0h-1.0zM265.3,231.3h1.0v1.0h-1.0zM272.9,238.1h1.0v1.0h-1.0zM263.1,247.6h1.0v1.0h-1.0zM254.2,232.5h1.0v1.0h-1.0zM271.9,241.3h1.0v1.0h-1.0zM256.0,234.4h1.0v1.0h-1.0zM280.9,243.3h1.0v1.0h-1.0zM268.1,236.7h1.0v1.0h-1.0zM263.4,238.4h1.0v1.0h-1.0zM262.1,226.7h1.0v1.0h-1.0zM258.5,236.8h1.0v1.0h-1.0zM260.1,241.9h1.0v1.0h-1.0zM279.7,241.4h1.0v1.0h-1.0zM275.0,242.0h1.0v1.0h-1.0zM272.0,240.7h1.0v1.0h-1.0zM273.6,240.3h1.0v1.0h-1.0zM262.4,233.3h1.0v1.0h-1.0zM262.5,240.5h1.0v1.0h-1.0zM273.9,232.7h1.0v1.0h-1.0zM262.6,233.7h1.0v1.0h-1.0zM276.6,236.0h1.0v1.0h-1.0zM268.2,233.2h1.0v1.0h-1.0zM269.1,244.3h1.0v1.0h-1.0zM264.8,234.8h1.0v1.0h-1.0zM282.9,240.0h1.0v1.0h-1.0zM261.4,241.8h1.0v1.0h-1.0zM260.5,239.2h1.0v1.0h-1.0zM251.0,231.7h1.0v1.0h-1.0zM277.0,233.7h1.0v1.0h-1.0zM264.6,236.8h1.0v1.0h-1.0zM270.1,234.3h1.0v1.0h-1.0zM264.9,245.2h1.0v1.0h-1.0zM281.3,238.1h1.0v1.0h-1.0zM261.4,234.0h1.0v1.0h-1.0zM267.9,238.9h1.0v1.0h-1.0zM282.2,234.0h1.0v1.0h-1.0zM271.2,234.5h1.0v1.0h-1.0zM271.1,233.2h1.0v1.0h-1.0zM272.9,242.1h1.0v1.0h-1.0zM267.1,234.9h1.0v1.0h-1.0zM270.9,230.2h1.0v1.0h-1.0zM283.7,230.1h1.0v1.0h-1.0zM267.3,232.3h1.0v1.0h-1.0zM281.4,234.2h1.0v1.0h-1.0zM266.2,245.7h1.0v1.0h-1.0zM269.1,232.8h1.0v1.0h-1.0zM270.0,237.5h1.0v1.0h-1.0zM264.4,235.6h1.0v1.0h-1.0zM268.5,240.0h1.0v1.0h-1.0zM275.9,240.6h1.0v1.0h-1.0zM269.1,240.4h1.0v1.0h-1.0zM268.5,242.1h1.0v1.0h-1.0zM273.1,234.5h1.0v1.0h-1.0zM279.4,229.2h1.0v1.0h-1.0zM262.7,232.7h1.0v1.0h-1.0zM269.1,230.6h1.0v1.0h-1.0zM261.0,227.4h1.0v1.0h-1.0zM270.9,232.8h1.0v1.0h-1.0zM286.6,240.3h1.0v1.0h-1.0zM261.4,242.9h1.0v1.0h-1.0zM270.9,241.7h1.0v1.0h-1.0zM261.7,242.1h1.0v1.0h-1.0zM278.4,234.5h1.0v1.0h-1.0zM263.6,234.7h1.0v1.0h-1.0zM272.0,248.2h1.0v1.0h-1.0zM283.7,243.8h1.0v1.0h-1.0zM268.4,235.0h1.0v1.0h-1.0zM272.8,235.2h1.0v1.0h-1.0zM266.5,235.5h1.0v1.0h-1.0zM276.4,236.2h1.0v1.0h-1.0zM271.9,235.3h1.0v1.0h-1.0zM268.6,234.9h1.0v1.0h-1.0zM279.6,237.7h1.0v1.0h-1.0zM281.3,235.7h1.0v1.0h-1.0zM278.1,229.9h1.0v1.0h-1.0zM267.0,236.2h1.0v1.0h-1.0zM265.3,236.0h1.0v1.0h-1.0zM263.1,235.8h1.0v1.0h-1.0zM265.0,236.5h1.0v1.0h-1.0zM267.8,231.7h1.0v1.0h-1.0zM267.0,236.7h1.0v1.0h-1.0zM260.5,237.0h1.0v1.0h-1.0zM279.5,235.4h1.0v1.0h-1.0zM274.2,239.5h1.0v1.0h-1.0zM264.0,242.9h1.0v1.0h-1.0zM286.2,233.1h1.0v1.0h-1.0zM281.1,227.8h1.0v1.0h-1.0zM278.6,237.2h1.0v1.0h-1.0zM260.4,232.6h1.0v1.0h-1.0zM262.2,232.2h1.0v1.0h-1.0zM272.9,235.7h1.0v1.0h-1.0zM251.1,235.0h1.0v1.0h-1.0zM273.6,237.0h1.0v1.0h-1.0zM282.8,227.7h1.0v1.0h-1.0zM271.9,236.7h1.0v1.0h-1.0zM275.5,230.1h1.0v1.0h-1.0zM260.2,235.7h1.0v1.0h-1.0zM270.6,227.8h1.0v1.0h-1.0zM272.8,236.5h1.0v1.0h-1.0zM275.6,223.9h1.0v1.0h-1.0zM273.8,232.2h1.0v1.0h-1.0zM266.5,240.3h1.0v1.0h-1.0zM282.8,237.3h1.0v1.0h-1.0zM269.2,242.9h1.0v1.0h-1.0zM263.3,235.8h1.0v1.0h-1.0zM266.2,231.8h1.0v1.0h-1.0zM271.5,246.4h1.0v1.0h-1.0zM271.9,238.9h1.0v1.0h-1.0zM269.8,242.0h1.0v1.0h-1.0zM271.4,232.3h1.0v1.0h-1.0zM270.8,243.5h1.0v1.0h-1.0zM269.4,242.3h1.0v1.0h-1.0zM269.5,246.3h1.0v1.0h-1.0zM272.2,239.7h1.0v1.0h-1.0zM267.9,240.6h1.0v1.0h-1.0zM268.3,229.4h1.0v1.0h-1.0zM272.3,230.7h1.0v1.0h-1.0zM281.2,240.4h1.0v1.0h-1.0zM270.2,239.9h1.0v1.0h-1.0zM250.5,243.9h1.0v1.0h-1.0zM265.2,239.8h1.0v1.0h-1.0zM266.9,238.2h1.0v1.0h-1.0zM273.2,228.4h1.0v1.0h-1.0zM263.0,243.7h1.0v1.0h-1.0zM265.5,239.2h1.0v1.0h-1.0zM259.7,232.1h1.0v1.0h-1.0zM256.3,237.8h1.0v1.0h-1.0zM278.8,237.0h1.0v1.0h-1.0zM268.0,237.7h1.0v1.0h-1.0zM273.6,235.1h1.0v1.0h-1.0zM274.2,246.0h1.0v1.0h-1.0zM286.8,233.8h1.0v1.0h-1.0zM260.5,245.8h1.0v1.0h-1.0zM277.5,242.4h1.0v1.0h-1.0zM274.6,235.4h1.0v1.0h-1.0zM277.4,241.9h1.0v1.0h-1.0zM278.9,231.3h1.0v1.0h-1.0zM277.8,234.8h1.0v1.0h-1.0zM267.4,238.2h1.0v1.0h-1.0zM267.4,247.7h1.0v1.0h-1.0zM274.3,237.8h1.0v1.0h-1.0zM268.6,237.7h1.0v1.0h-1.0zM268.3,239.4h1.0v1.0h-1.0zM276.6,240.6h1.0v1.0h-1.0zM260.6,234.9h1.0v1.0h-1.0zM270.7,230.6h1.0v1.0h-1.0zM272.9,235.9h1.0v1.0h-1.0zM270.5,238.4h1.0v1.0h-1.0zM265.4,244.1h1.0v1.0h-1.0zM277.9,233.9h1.0v1.0h-1.0zM273.6,240.1h1.0v1.0h-1.0zM264.3,234.8h1.0v1.0h-1.0zM275.3,224.1h1.0v1.0h-1.0zM260.1,238.1h1.0v1.0h-1.0zM274.8,232.1h1.0v1.0h-1.0zM276.5,247.2h1.0v1.0h-1.0zM271.7,236.4h1.0v1.0h-1.0zM270.6,231.7h1.0v1.0h-1.0zM274.2,237.4h1.0v1.0h-1.0zM275.7,243.4h1.0v1.0h-1.0zM270.4,237.4h1.0v1.0h-1.0zM272.5,244.9h1.0v1.0h-1.0zM259.1,236.5h1.0v1.0h-1.0zM265.4,237.2h1.0v1.0h-1.0zM276.4,236.9h1.0v1.0h-1.0zM275.6,237.5h1.0v1.0h-1.0zM264.7,233.4h1.0v1.0h-1.0zM259.7,237.6h1.0v1.0h-1.0zM267.1,240.6h1.0v1.0h-1.0zM277.4,232.3h1.0v1.0h-1.0zM261.9,239.5h1.0v1.0h-1.0zM263.5,237.6h1.0v1.0h-1.0zM274.7,234.7h1.0v1.0h-1.0zM283.5,232.8h1.0v1.0h-1.0zM273.3,234.6h1.0v1.0h-1.0zM248.4,235.7h1.0v1.0h-1.0zM268.9,239.4h1.0v1.0h-1.0zM269.1,233.0h1.0v1.0h-1.0zM266.2,235.1h1.0v1.0h-1.0zM275.8,235.2h1.0v1.0h-1.0zM279.4,240.7h1.0v1.0h-1.0zM264.5,241.5h1.0v1.0h-1.0zM253.0,236.7h1.0v1.0h-1.0zM262.7,236.1h1.0v1.0h-1.0zM278.8,236.6h1.0v1.0h-1.0zM268.8,242.7h1.0v1.0h-1.0zM264.4,232.6h1.0v1.0h-1.0zM277.4,239.5h1.0v1.0h-1.0zM259.3,237.3h1.0v1.0h-1.0zM276.0,235.8h1.0v1.0h-1.0zM267.0,237.2h1.0v1.0h-1.0zM271.7,233.2h1.0v1.0h-1.0zM276.4,229.0h1.0v1.0h-1.0zM269.5,246.9h1.0v1.0h-1.0zM262.1,236.4h1.0v1.0h-1.0zM253.0,232.6h1.0v1.0h-1.0zM261.4,236.9h1.0v1.0h-1.0zM266.4,245.4h1.0v1.0h-1.0zM263.1,236.4h1.0v1.0h-1.0zM271.7,239.7h1.0v1.0h-1.0zM276.8,229.0h1.0v1.0h-1.0zM286.6,235.1h1.0v1.0h-1.0zM264.7,228.6h1.0v1.0h-1.0zM266.7,228.0h1.0v1.0h-1.0zM271.5,233.7h1.0v1.0h-1.0zM272.5,232.8h1.0v1.0h-1.0zM270.6,247.3h1.0v1.0h-1.0zM278.9,237.3h1.0v1.0h-1.0zM262.7,243.6h1.0v1.0h-1.0zM257.3,229.7h1.0v1.0h-1.0zM279.8,233.7h1.0v1.0h-1.0zM280.2,239.3h1.0v1.0h-1.0zM286.5,245.1h1.0v1.0h-1.0zM274.5,233.5h1.0v1.0h-1.0zM274.5,243.3h1.0v1.0h-1.0zM271.1,222.6h1.0v1.0h-1.0zM267.2,234.8h1.0v1.0h-1.0zM269.6,234.9h1.0v1.0h-1.0zM278.7,230.4h1.0v1.0h-1.0zM273.4,227.0h1.0v1.0h-1.0zM253.7,231.7h1.0v1.0h-1.0zM264.4,232.2h1.0v1.0h-1.0zM264.8,239.5h1.0v1.0h-1.0zM274.4,236.9h1.0v1.0h-1.0zM271.5,233.2h1.0v1.0h-1.0zM262.6,229.7h1.0v1.0h-1.0zM266.9,231.1h1.0v1.0h-1.0zM267.6,240.0h1.0v1.0h-1.0zM274.2,242.9h1.0v1.0h-1.0zM263.0,225.9h1.0v1.0h-1.0zM261.7,246.1h1.0v1.0h-1.0zM275.3,234.4h1.0v1.0h-1.0zM280.0,234.5h1.0v1.0h-1.0zM282.6,234.6h1.0v1.0h-1.0zM267.0,239.9h1.0v1.0h-1.0zM261.4,235.7h1.0v1.0h-1.0zM284.6,238.6h1.0v1.0h-1.0zM261.7,235.3h1.0v1.0h-1.0zM269.8,232.9h1.0v1.0h-1.0zM273.1,242.5h1.0v1.0h-1.0zM270.4,240.8h1.0v1.0h-1.0zM272.2,237.2h1.0v1.0h-1.0zM264.4,241.1h1.0v1.0h-1.0zM280.2,234.3h1.0v1.0h-1.0zM263.4,239.0h1.0v1.0h-1.0zM270.8,241.9h1.0v1.0h-1.0zM273.7,235.9h1.0v1.0h-1.0zM259.6,239.5h1.0v1.0h-1.0zM270.7,230.4h1.0v1.0h-1.0zM258.8,227.7h1.0v1.0h-1.0zM274.7,234.4h1.0v1.0h-1.0zM245.0,232.3h1.0v1.0h-1.0zM265.2,236.0h1.0v1.0h-1.0zM270.3,234.9h1.0v1.0h-1.0zM275.6,241.4h1.0v1.0h-1.0zM268.3,244.1h1.0v1.0h-1.0zM269.0,232.3h1.0v1.0h-1.0zM271.2,229.6h1.0v1.0h-1.0zM267.7,231.4h1.0v1.0h-1.0zM266.8,237.4h1.0v1.0h-1.0zM251.6,238.4h1.0v1.0h-1.0zM271.9,235.4h1.0v1.0h-1.0zM275.4,238.1h1.0v1.0h-1.0zM267.2,231.7h1.0v1.0h-1.0zM275.5,240.1h1.0v1.0h-1.0zM258.9,233.0h1.0v1.0h-1.0zM261.1,240.5h1.0v1.0h-1.0zM265.7,230.5h1.0v1.0h-1.0zM281.3,238.7h1.0v1.0h-1.0zM271.7,237.7h1.0v1.0h-1.0zM268.6,236.6h1.0v1.0h-1.0zM276.7,238.6h1.0v1.0h-1.0zM266.5,236.9h1.0v1.0h-1.0zM284.0,233.8h1.0v1.0h-1.0zM260.1,237.0h1.0v1.0h-1.0zM261.4,249.1h1.0v1.0h-1.0zM274.7,239.3h1.0v1.0h-1.0zM272.7,246.0h1.0v1.0h-1.0zM262.3,236.2h1.0v1.0h-1.0zM257.4,242.5h1.0v1.0h-1.0zM269.4,245.0h1.0v1.0h-1.0zM267.9,231.4h1.0v1.0h-1.0zM264.7,240.3h1.0v1.0h-1.0zM263.8,237.7h1.0v1.0h-1.0zM264.5,233.0h1.0v1.0h-1.0zM265.7,244.3h1.0v1.0h-1.0zM261.8,238.0h1.0v1.0h-1.0zM276.0,232.9h1.0v1.0h-1.0zM258.6,243.7h1.0v1.0h-1.0zM283.0,235.3h1.0v1.0h-1.0zM260.9,240.7h1.0v1.0h-1.0zM269.6,232.5h1.0v1.0h-1.0zM267.0,224.9h1.0v1.0h-1.0zM263.8,230.6h1.0v1.0h-1.0zM260.0,239.3h1.0v1.0h-1.0zM271.9,244.6h1.0v1.0h-1.0zM249.7,233.2h1.0v1.0h-1.0zM263.6,242.8h1.0v1.0h-1.0z" fill="#5a62a8" fill-opacity="0.5"/>
<path d="M276.6,234.8h1.0v1.0h-1.0zM273.3,232.2h1.0v1.0h-1.0zM271.1,233.1h1.0v1.0h-1.0zM264.1,240.2h1.0v1.0h-1.0zM275.5,240.8h1.0v1.0h-1.0zM277.3,236.0h1.0v1.0h-1.0zM275.9,229.3h1.0v1.0h-1.0zM269.4,237.0h1.0v1.0h-1.0zM271.6,229.6h1.0v1.0h-1.0zM272.9,230.6h1.0v1.0h-1.0zM272.9,239.2h1.0v1.0h-1.0zM268.9,233.1h1.0v1.0h-1.0zM274.9,234.4h1.0v1.0h-1.0zM273.6,231.9h1.0v1.0h-1.0zM271.7,227.2h1.0v1.0h-1.0zM272.3,238.3h1.0v1.0h-1.0zM269.0,233.9h1.0v1.0h-1.0zM275.4,238.1h1.0v1.0h-1.0zM277.0,231.8h1.0v1.0h-1.0zM271.5,239.8h1.0v1.0h-1.0zM271.3,235.3h1.0v1.0h-1.0zM269.9,232.4h1.0v1.0h-1.0zM262.4,232.8h1.0v1.0h-1.0zM265.1,231.4h1.0v1.0h-1.0zM269.5,238.5h1.0v1.0h-1.0zM275.6,235.7h1.0v1.0h-1.0zM271.1,230.2h1.0v1.0h-1.0zM274.6,231.9h1.0v1.0h-1.0zM272.5,237.3h1.0v1.0h-1.0zM272.2,234.3h1.0v1.0h-1.0zM269.4,237.6h1.0v1.0h-1.0zM274.8,236.6h1.0v1.0h-1.0zM278.7,229.5h1.0v1.0h-1.0zM273.0,236.4h1.0v1.0h-1.0zM274.1,235.4h1.0v1.0h-1.0zM274.6,229.8h1.0v1.0h-1.0zM272.6,238.0h1.0v1.0h-1.0zM272.7,233.8h1.0v1.0h-1.0zM275.9,229.1h1.0v1.0h-1.0zM274.3,239.0h1.0v1.0h-1.0zM272.0,231.9h1.0v1.0h-1.0zM274.8,233.0h1.0v1.0h-1.0zM270.0,234.9h1.0v1.0h-1.0zM267.0,236.5h1.0v1.0h-1.0zM268.7,232.7h1.0v1.0h-1.0zM275.5,234.3h1.0v1.0h-1.0zM273.8,238.6h1.0v1.0h-1.0zM278.3,240.8h1.0v1.0h-1.0zM271.0,237.2h1.0v1.0h-1.0zM267.0,236.9h1.0v1.0h-1.0zM277.5,232.2h1.0v1.0h-1.0zM274.6,237.0h1.0v1.0h-1.0zM272.3,232.5h1.0v1.0h-1.0zM278.3,230.4h1.0v1.0h-1.0zM273.5,237.3h1.0v1.0h-1.0zM273.7,239.2h1.0v1.0h-1.0zM278.2,235.8h1.0v1.0h-1.0zM279.2,236.7h1.0v1.0h-1.0zM268.5,233.4h1.0v1.0h-1.0zM273.9,235.0h1.0v1.0h-1.0zM266.9,241.4h1.0v1.0h-1.0zM267.4,231.0h1.0v1.0h-1.0zM274.5,235.0h1.0v1.0h-1.0zM278.4,235.1h1.0v1.0h-1.0zM274.2,236.6h1.0v1.0h-1.0zM270.3,230.5h1.0v1.0h-1.0zM271.3,237.5h1.0v1.0h-1.0zM271.9,238.2h1.0v1.0h-1.0zM271.0,236.7h1.0v1.0h-1.0zM273.0,237.0h1.0v1.0h-1.0zM273.0,235.0h1.0v1.0h-1.0zM271.3,238.2h1.0v1.0h-1.0zM272.8,236.0h1.0v1.0h-1.0zM275.2,231.7h1.0v1.0h-1.0zM270.0,234.3h1.0v1.0h-1.0zM277.4,231.2h1.0v1.0h-1.0zM269.3,231.4h1.0v1.0h-1.0zM271.5,231.2h1.0v1.0h-1.0zM270.0,236.0h1.0v1.0h-1.0zM269.1,234.4h1.0v1.0h-1.0zM268.8,233.8h1.0v1.0h-1.0zM274.8,228.3h1.0v1.0h-1.0zM273.1,235.1h1.0v1.0h-1.0zM272.7,235.2h1.0v1.0h-1.0zM274.4,230.5h1.0v1.0h-1.0zM272.5,236.4h1.0v1.0h-1.0zM277.5,230.3h1.0v1.0h-1.0zM270.8,230.3h1.0v1.0h-1.0zM272.9,231.2h1.0v1.0h-1.0zM269.5,236.8h1.0v1.0h-1.0zM280.9,228.2h1.0v1.0h-1.0zM278.8,231.7h1.0v1.0h-1.0zM275.4,235.5h1.0v1.0h-1.0zM277.3,233.8h1.0v1.0h-1.0zM270.0,234.3h1.0v1.0h-1.0zM275.7,231.7h1.0v1.0h-1.0zM274.4,234.4h1.0v1.0h-1.0zM273.6,234.5h1.0v1.0h-1.0zM275.1,236.9h1.0v1.0h-1.0zM271.9,233.4h1.0v1.0h-1.0zM265.3,231.8h1.0v1.0h-1.0zM267.5,236.5h1.0v1.0h-1.0zM269.1,232.3h1.0v1.0h-1.0zM274.8,237.5h1.0v1.0h-1.0zM277.2,231.9h1.0v1.0h-1.0zM273.8,237.7h1.0v1.0h-1.0zM269.9,233.8h1.0v1.0h-1.0zM268.6,232.5h1.0v1.0h-1.0zM275.5,234.7h1.0v1.0h-1.0zM271.7,232.8h1.0v1.0h-1.0zM278.3,236.7h1.0v1.0h-1.0zM268.6,241.0h1.0v1.0h-1.0zM271.5,234.0h1.0v1.0h-1.0zM271.2,232.7h1.0v1.0h-1.0zM275.2,230.1h1.0v1.0h-1.0zM273.1,233.5h1.0v1.0h-1.0zM279.1,235.6h1.0v1.0h-1.0zM274.5,236.1h1.0v1.0h-1.0zM275.1,234.8h1.0v1.0h-1.0zM264.3,235.7h1.0v1.0h-1.0zM271.8,236.6h1.0v1.0h-1.0zM274.1,232.8h1.0v1.0h-1.0zM269.8,231.4h1.0v1.0h-1.0zM274.0,234.1h1.0v1.0h-1.0zM269.8,233.4h1.0v1.0h-1.0zM274.2,232.5h1.0v1.0h-1.0zM272.5,232.6h1.0v1.0h-1.0zM263.8,234.7h1.0v1.0h-1.0zM273.2,236.9h1.0v1.0h-1.0zM277.6,232.3h1.0v1.0h-1.0zM275.1,235.3h1.0v1.0h-1.0zM273.2,237.0h1.0v1.0h-1.0zM276.0,230.6h1.0v1.0h-1.0zM278.2,233.9h1.0v1.0h-1.0zM270.6,232.4h1.0v1.0h-1.0zM272.2,231.1h1.0v1.0h-1.0zM276.8,235.8h1.0v1.0h-1.0zM269.8,237.0h1.0v1.0h-1.0zM273.8,234.7h1.0v1.0h-1.0zM276.4,234.2h1.0v1.0h-1.0zM272.0,236.0h1.0v1.0h-1.0zM266.5,230.8h1.0v1.0h-1.0zM274.7,237.7h1.0v1.0h-1.0zM267.0,234.5h1.0v1.0h-1.0zM270.6,233.6h1.0v1.0h-1.0zM275.1,239.0h1.0v1.0h-1.0zM279.2,237.3h1.0v1.0h-1.0zM275.2,234.9h1.0v1.0h-1.0zM266.4,235.7h1.0v1.0h-1.0zM268.8,231.1h1.0v1.0h-1.0z" fill="#5860a8" fill-opacity="0.5"/>
<path d="M269.2,253.0h1.0v1.0h-1.0zM282.5,265.1h1.0v1.0h-1.0zM271.2,264.4h1.0v1.0h-1.0zM270.2,262.1h1.0v1.0h-1.0zM273.9,258.0h1.0v1.0h-1.0zM270.4,262.7h1.0v1.0h-1.0zM274.5,255.7h1.0v1.0h-1.0zM270.2,261.0h1.0v1.0h-1.0zM273.3,264.7h1.0v1.0h-1.0zM269.7,264.3h1.0v1.0h-1.0zM271.8,269.3h1.0v1.0h-1.0zM270.7,264.7h1.0v1.0h-1.0zM260.7,260.6h1.0v1.0h-1.0zM274.4,267.6h1.0v1.0h-1.0zM260.4,261.5h1.0v1.0h-1.0zM266.1,262.1h1.0v1.0h-1.0zM264.4,259.4h1.0v1.0h-1.0zM267.7,262.4h1.0v1.0h-1.0zM276.4,257.1h1.0v1.0h-1.0zM260.5,266.1h1.0v1.0h-1.0zM272.3,260.7h1.0v1.0h-1.0zM259.0,267.6h1.0v1.0h-1.0zM259.6,268.0h1.0v1.0h-1.0zM270.2,260.9h1.0v1.0h-1.0zM266.9,266.3h1.0v1.0h-1.0zM268.3,252.2h1.0v1.0h-1.0zM262.6,249.9h1.0v1.0h-1.0zM271.4,266.9h1.0v1.0h-1.0zM276.5,254.3h1.0v1.0h-1.0zM267.3,250.8h1.0v1.0h-1.0zM261.2,267.5h1.0v1.0h-1.0zM284.8,258.8h1.0v1.0h-1.0zM253.4,256.4h1.0v1.0h-1.0zM283.6,261.7h1.0v1.0h-1.0zM257.0,250.2h1.0v1.0h-1.0zM273.3,266.2h1.0v1.0h-1.0zM264.4,260.7h1.0v1.0h-1.0zM268.9,259.9h1.0v1.0h-1.0zM263.8,258.6h1.0v1.0h-1.0zM263.5,268.5h1.0v1.0h-1.0zM271.4,267.4h1.0v1.0h-1.0zM283.0,249.1h1.0v1.0h-1.0zM267.7,267.0h1.0v1.0h-1.0zM266.5,258.5h1.0v1.0h-1.0zM271.4,258.8h1.0v1.0h-1.0zM261.5,260.1h1.0v1.0h-1.0zM268.7,261.8h1.0v1.0h-1.0zM275.4,261.9h1.0v1.0h-1.0zM266.4,260.3h1.0v1.0h-1.0zM267.1,257.9h1.0v1.0h-1.0zM255.6,262.8h1.0v1.0h-1.0zM279.9,251.7h1.0v1.0h-1.0zM262.1,264.1h1.0v1.0h-1.0zM262.8,264.7h1.0v1.0h-1.0zM267.8,255.7h1.0v1.0h-1.0zM266.5,258.9h1.0v1.0h-1.0zM272.6,247.8h1.0v1.0h-1.0zM271.5,269.1h1.0v1.0h-1.0zM269.4,263.1h1.0v1.0h-1.0zM263.9,263.6h1.0v1.0h-1.0zM267.0,254.7h1.0v1.0h-1.0zM258.7,249.0h1.0v1.0h-1.0zM271.7,262.7h1.0v1.0h-1.0zM277.0,263.2h1.0v1.0h-1.0zM273.8,254.4h1.0v1.0h-1.0zM253.3,258.6h1.0v1.0h-1.0zM265.6,263.7h1.0v1.0h-1.0zM267.2,260.8h1.0v1.0h-1.0zM268.6,263.1h1.0v1.0h-1.0zM269.8,263.5h1.0v1.0h-1.0zM264.2,261.2h1.0v1.0h-1.0zM256.4,255.6h1.0v1.0h-1.0zM266.0,264.1h1.0v1.0h-1.0zM262.2,254.0h1.0v1.0h-1.0zM275.9,257.1h1.0v1.0h-1.0zM254.4,256.4h1.0v1.0h-1.0zM258.7,248.4h1.0v1.0h-1.0zM265.1,271.0h1.0v1.0h-1.0zM262.3,257.2h1.0v1.0h-1.0zM277.4,262.2h1.0v1.0h-1.0zM267.4,269.2h1.0v1.0h-1.0zM258.8,261.4h1.0v1.0h-1.0zM272.3,262.9h1.0v1.0h-1.0zM258.8,256.6h1.0v1.0h-1.0zM282.5,261.2h1.0v1.0h-1.0zM266.1,267.7h1.0v1.0h-1.0zM253.9,261.4h1.0v1.0h-1.0zM254.1,269.4h1.0v1.0h-1.0zM260.3,262.4h1.0v1.0h-1.0zM260.8,262.5h1.0v1.0h-1.0zM270.8,261.8h1.0v1.0h-1.0zM265.7,263.1h1.0v1.0h-1.0zM266.3,259.0h1.0v1.0h-1.0zM273.3,266.5h1.0v1.0h-1.0zM257.4,256.2h1.0v1.0h-1.0zM262.0,263.4h1.0v1.0h-1.0zM257.0,270.3h1.0v1.0h-1.0zM268.6,262.6h1.0v1.0h-1.0zM275.2,257.6h1.0v1.0h-1.0zM271.2,264.0h1.0v1.0h-1.0zM278.6,256.0h1.0v1.0h-1.0zM279.3,265.0h1.0v1.0h-1.0zM270.3,267.6h1.0v1.0h-1.0zM266.3,260.7h1.0v1.0h-1.0zM274.9,259.8h1.0v1.0h-1.0zM276.9,269.3h1.0v1.0h-1.0zM270.0,262.8h1.0v1.0h-1.0zM263.1,256.7h1.0v1.0h-1.0zM279.8,256.1h1.0v1.0h-1.0zM269.0,263.4h1.0v1.0h-1.0zM261.1,258.0h1.0v1.0h-1.0zM271.3,269.4h1.0v1.0h-1.0zM284.5,267.4h1.0v1.0h-1.0zM278.8,259.4h1.0v1.0h-1.0zM262.8,269.8h1.0v1.0h-1.0zM280.0,256.2h1.0v1.0h-1.0zM277.5,263.4h1.0v1.0h-1.0zM274.7,267.1h1.0v1.0h-1.0zM283.5,258.4h1.0v1.0h-1.0zM268.4,268.8h1.0v1.0h-1.0zM266.3,264.8h1.0v1.0h-1.0zM267.8,252.5h1.0v1.0h-1.0zM264.0,266.7h1.0v1.0h-1.0zM264.0,253.4h1.0v1.0h-1.0zM264.4,262.4h1.0v1.0h-1.0zM272.3,263.7h1.0v1.0h-1.0zM272.6,256.1h1.0v1.0h-1.0zM263.6,257.7h1.0v1.0h-1.0zM264.9,264.3h1.0v1.0h-1.0zM279.1,260.6h1.0v1.0h-1.0zM276.9,268.0h1.0v1.0h-1.0zM259.3,257.4h1.0v1.0h-1.0zM269.7,254.3h1.0v1.0h-1.0zM283.4,251.6h1.0v1.0h-1.0zM258.7,266.2h1.0v1.0h-1.0zM262.5,265.8h1.0v1.0h-1.0zM260.6,267.7h1.0v1.0h-1.0zM263.8,265.9h1.0v1.0h-1.0zM276.5,253.7h1.0v1.0h-1.0zM261.4,252.3h1.0v1.0h-1.0zM259.6,267.0h1.0v1.0h-1.0zM268.2,266.6h1.0v1.0h-1.0zM279.9,267.6h1.0v1.0h-1.0zM274.3,259.6h1.0v1.0h-1.0zM265.4,263.7h1.0v1.0h-1.0zM275.4,267.9h1.0v1.0h-1.0zM270.9,260.4h1.0v1.0h-1.0zM267.9,271.1h1.0v1.0h-1.0zM262.8,266.8h1.0v1.0h-1.0zM270.3,266.2h1.0v1.0h-1.0zM262.6,263.8h1.0v1.0h-1.0zM268.0,260.4h1.0v1.0h-1.0zM259.0,254.2h1.0v1.0h-1.0zM265.9,265.0h1.0v1.0h-1.0zM270.6,263.3h1.0v1.0h-1.0zM271.1,254.6h1.0v1.0h-1.0z" fill="#5a62a8" fill-opacity="0.5"/>
<path d="M233.9,261.3h1.0v1.0h-1.0zM266.0,258.8h1.0v1.0h-1.0zM235.0,260.7h1.0v1.0h-1.0zM252.5,271.0h1.0v1.0h-1.0zM252.8,270.1h1.0v1.0h-1.0zM280.8,263.5h1.0v1.0h-1.0zM240.0,267.9h1.0v1.0h-1.0zM238.0,263.2h1.0v1.0h-1.0zM238.4,254.5h1.0v1.0h-1.0zM255.6,255.7h1.0v1.0h-1.0zM287.6,263.6h1.0v1.0h-1.0zM282.4,270.7h1.0v1.0h-1.0zM274.7,264.9h1.0v1.0h-1.0zM259.1,267.3h1.0v1.0h-1.0zM269.8,255.8h1.0v1.0h-1.0zM262.2,260.5h1.0v1.0h-1.0zM261.4,266.1h1.0v1.0h-1.0zM270.9,263.5h1.0v1.0h-1.0zM276.4,268.2h1.0v1.0h-1.0zM238.2,255.5h1.0v1.0h-1.0zM235.7,255.8h1.0v1.0h-1.0zM285.7,258.6h1.0v1.0h-1.0zM257.2,261.5h1.0v1.0h-1.0zM264.1,258.0h1.0v1.0h-1.0zM275.8,259.0h1.0v1.0h-1.0zM279.5,267.8h1.0v1.0h-1.0zM233.2,263.0h1.0v1.0h-1.0zM238.2,269.3h1.0v1.0h-1.0zM236.9,257.8h1.0v1.0h-1.0zM275.3,263.8h1.0v1.0h-1.0zM269.7,260.5h1.0v1.0h-1.0zM261.7,256.6h1.0v1.0h-1.0zM258.5,257.6h1.0v1.0h-1.0zM270.2,254.8h1.0v1.0h-1.0zM240.7,256.5h1.0v1.0h-1.0zM262.4,263.7h1.0v1.0h-1.0zM233.3,271.3h1.0v1.0h-1.0zM279.0,259.9h1.0v1.0h-1.0zM241.8,268.2h1.0v1.0h-1.0zM286.7,256.1h1.0v1.0h-1.0zM274.6,268.1h1.0v1.0h-1.0zM284.6,256.7h1.0v1.0h-1.0zM239.7,255.9h1.0v1.0h-1.0zM245.8,269.6h1.0v1.0h-1.0zM283.1,261.7h1.0v1.0h-1.0zM240.1,259.4h1.0v1.0h-1.0zM246.3,264.9h1.0v1.0h-1.0zM272.6,267.3h1.0v1.0h-1.0zM257.1,261.3h1.0v1.0h-1.0zM258.8,259.7h1.0v1.0h-1.0zM258.1,265.6h1.0v1.0h-1.0zM272.1,258.9h1.0v1.0h-1.0zM264.2,255.5h1.0v1.0h-1.0zM235.6,260.0h1.0v1.0h-1.0zM252.8,253.4h1.0v1.0h-1.0zM237.5,260.8h1.0v1.0h-1.0zM284.8,268.5h1.0v1.0h-1.0zM234.8,258.7h1.0v1.0h-1.0zM253.3,258.6h1.0v1.0h-1.0zM240.6,263.8h1.0v1.0h-1.0zM279.2,259.9h1.0v1.0h-1.0zM242.8,254.8h1.0v1.0h-1.0zM233.9,267.1h1.0v1.0h-1.0zM245.8,266.3h1.0v1.0h-1.0zM276.5,254.4h1.0v1.0h-1.0zM243.5,258.7h1.0v1.0h-1.0zM275.3,266.6h1.0v1.0h-1.0zM249.7,261.3h1.0v1.0h-1.0zM252.6,261.6h1.0v1.0h-1.0zM276.7,257.7h1.0v1.0h-1.0zM277.6,270.0h1.0v1.0h-1.0zM266.1,270.7h1.0v1.0h-1.0zM284.6,256.0h1.0v1.0h-1.0zM287.5,256.6h1.0v1.0h-1.0zM277.3,255.1h1.0v1.0h-1.0zM249.7,261.1h1.0v1.0h-1.0zM279.2,265.5h1.0v1.0h-1.0zM244.3,269.6h1.0v1.0h-1.0zM280.6,262.3h1.0v1.0h-1.0zM235.9,258.1h1.0v1.0h-1.0zM249.2,260.6h1.0v1.0h-1.0zM284.8,263.9h1.0v1.0h-1.0zM278.1,254.1h1.0v1.0h-1.0zM246.6,266.5h1.0v1.0h-1.0zM251.8,257.1h1.0v1.0h-1.0zM236.6,253.8h1.0v1.0h-1.0zM255.7,263.0h1.0v1.0h-1.0zM255.1,263.4h1.0v1.0h-1.0zM249.1,253.1h1.0v1.0h-1.0zM270.1,259.1h1.0v1.0h-1.0z" fill="#6068a8" fill-opacity="0.45"/>
<path d="M260.1,229.8h1.0v1.0h-1.0zM247.9,218.7h1.0v1.0h-1.0zM249.4,227.1h1.0v1.0h-1.0zM239.4,218.0h1.0v1.0h-1.0zM259.5,217.7h1.0v1.0h-1.0zM281.4,229.2h1.0v1.0h-1.0zM257.5,234.8h1.0v1.0h-1.0zM234.4,220.4h1.0v1.0h-1.0zM276.2,235.8h1.0v1.0h-1.0zM260.2,228.6h1.0v1.0h-1.0zM274.3,234.0h1.0v1.0h-1.0zM276.6,245.2h1.0v1.0h-1.0zM282.2,241.5h1.0v1.0h-1.0zM270.1,232.6h1.0v1.0h-1.0zM262.4,236.6h1.0v1.0h-1.0zM261.9,244.7h1.0v1.0h-1.0zM280.2,218.8h1.0v1.0h-1.0zM274.4,237.8h1.0v1.0h-1.0zM266.0,247.7h1.0v1.0h-1.0zM235.8,233.1h1.0v1.0h-1.0zM253.7,249.1h1.0v1.0h-1.0zM242.1,236.0h1.0v1.0h-1.0zM241.0,242.5h1.0v1.0h-1.0zM260.0,241.9h1.0v1.0h-1.0zM250.0,246.9h1.0v1.0h-1.0zM233.5,224.6h1.0v1.0h-1.0zM273.4,246.7h1.0v1.0h-1.0zM275.8,226.3h1.0v1.0h-1.0zM237.5,241.0h1.0v1.0h-1.0zM273.3,219.0h1.0v1.0h-1.0zM284.4,234.8h1.0v1.0h-1.0zM234.9,233.2h1.0v1.0h-1.0zM251.7,220.5h1.0v1.0h-1.0zM281.7,248.6h1.0v1.0h-1.0zM239.9,232.1h1.0v1.0h-1.0zM248.1,239.7h1.0v1.0h-1.0zM239.1,228.3h1.0v1.0h-1.0zM255.6,233.0h1.0v1.0h-1.0zM257.0,237.1h1.0v1.0h-1.0zM284.7,248.5h1.0v1.0h-1.0zM282.9,245.0h1.0v1.0h-1.0zM245.6,225.3h1.0v1.0h-1.0zM258.3,238.7h1.0v1.0h-1.0zM266.4,228.8h1.0v1.0h-1.0zM287.5,227.6h1.0v1.0h-1.0zM234.2,220.1h1.0v1.0h-1.0zM244.6,241.7h1.0v1.0h-1.0zM279.3,218.4h1.0v1.0h-1.0zM246.1,225.2h1.0v1.0h-1.0zM276.3,247.3h1.0v1.0h-1.0zM247.6,220.5h1.0v1.0h-1.0zM286.2,249.8h1.0v1.0h-1.0zM272.4,233.0h1.0v1.0h-1.0zM274.1,242.9h1.0v1.0h-1.0zM261.1,226.2h1.0v1.0h-1.0zM261.9,239.4h1.0v1.0h-1.0zM250.9,238.6h1.0v1.0h-1.0zM241.2,249.8h1.0v1.0h-1.0zM244.7,224.6h1.0v1.0h-1.0zM285.8,249.1h1.0v1.0h-1.0z" fill="#6068a8" fill-opacity="0.45"/>
</g>
<text x="255.5" y="223.6" font-size="4.6" fill="#333" textLength="28.8" lengthAdjust="spacingAndGlyphs" style="stroke-width:0.05px">Msr1<tspan dy="-1.6" font-size="2.8">-/-</tspan><tspan dy="1.6"> to WT</tspan></text>
<line x1="294.90" y1="153.30" x2="294.90" y2="261.30" stroke="#222" stroke-width="1.6" />
<line x1="297.00" y1="207.30" x2="302.50" y2="207.30" stroke="#222" stroke-width="1.0" />
<polygon points="307.00,207.30 302.50,209.00 302.50,205.60" fill="#222"/>
<rect x="328.20" y="120.80" width="8.80" height="5.10" fill="#fff" stroke="#222" stroke-width="0.9" />
<rect x="328.20" y="128.80" width="8.80" height="5.00" fill="#9a9a9a" stroke="#222" stroke-width="0.9" />
<rect x="328.20" y="135.50" width="8.80" height="5.20" fill="#1e1e1e" stroke="#222" stroke-width="0.9" />
<text x="338.30" y="126.30" font-size="7.30" font-weight="normal" fill="#333" textLength="23.80" lengthAdjust="spacingAndGlyphs"  style="stroke-width:0.16px">Control</text>
<text x="338.30" y="133.90" font-size="7.30" font-weight="normal" fill="#333" textLength="29.30" lengthAdjust="spacingAndGlyphs"  style="stroke-width:0.16px">WT to WT</text>
<text x="338.3" y="141.0" font-size="7.3" fill="#333" textLength="39.2" lengthAdjust="spacingAndGlyphs" style="stroke-width:0.16px">Msr1<tspan dy="-2.4" font-size="4.2">-/-</tspan><tspan dy="2.4"> to WT</tspan></text>
<line x1="324.60" y1="138.60" x2="324.60" y2="209.10" stroke="#444" stroke-width="0.9" />
<line x1="324.60" y1="209.10" x2="376.00" y2="209.10" stroke="#444" stroke-width="0.9" />
<line x1="323.10" y1="209.10" x2="324.60" y2="209.10" stroke="#444" stroke-width="0.7" />
<text x="322.80" y="210.60" font-size="4.40" fill="#444" text-anchor="end" style="stroke-width:0.05px">0</text>
<line x1="323.10" y1="191.47" x2="324.60" y2="191.47" stroke="#444" stroke-width="0.7" />
<text x="322.80" y="192.97" font-size="4.40" fill="#444" text-anchor="end" style="stroke-width:0.05px">5</text>
<line x1="323.10" y1="173.85" x2="324.60" y2="173.85" stroke="#444" stroke-width="0.7" />
<text x="322.80" y="175.35" font-size="4.40" fill="#444" text-anchor="end" style="stroke-width:0.05px">10</text>
<line x1="323.10" y1="156.22" x2="324.60" y2="156.22" stroke="#444" stroke-width="0.7" />
<text x="322.80" y="157.72" font-size="4.40" fill="#444" text-anchor="end" style="stroke-width:0.05px">15</text>
<line x1="323.10" y1="138.60" x2="324.60" y2="138.60" stroke="#444" stroke-width="0.7" />
<text x="322.80" y="140.10" font-size="4.40" fill="#444" text-anchor="end" style="stroke-width:0.05px">20</text>
<line x1="332.95" y1="204.30" x2="332.95" y2="203.20" stroke="#222" stroke-width="1.0" />
<line x1="329.92" y1="203.20" x2="335.98" y2="203.20" stroke="#222" stroke-width="1.0" />
<rect x="327.40" y="204.80" width="11.10" height="4.30" fill="#fff" stroke="#222" stroke-width="1.0" />
<line x1="350.20" y1="194.40" x2="350.20" y2="183.80" stroke="#222" stroke-width="1.0" />
<line x1="347.35" y1="183.80" x2="353.05" y2="183.80" stroke="#222" stroke-width="1.0" />
<rect x="345.00" y="194.90" width="10.40" height="14.20" fill="#9a9a9a" stroke="#222" stroke-width="1.0" />
<line x1="367.60" y1="167.30" x2="367.60" y2="154.50" stroke="#222" stroke-width="1.0" />
<line x1="364.65" y1="154.50" x2="370.55" y2="154.50" stroke="#222" stroke-width="1.0" />
<rect x="362.20" y="167.80" width="10.80" height="41.30" fill="#1e1e1e" stroke="#222" stroke-width="1.0" />
<polyline points="349.30,152.60 349.30,149.60 368.70,149.60 368.70,152.60" fill="none" stroke="#333" stroke-width="0.9" stroke-linejoin="round" />
<line x1="358.80" y1="144.50" x2="358.80" y2="148.10" stroke="#222" stroke-width="1.0" />
<line x1="357.24" y1="145.40" x2="360.36" y2="147.20" stroke="#222" stroke-width="1.0" />
<line x1="360.36" y1="145.40" x2="357.24" y2="147.20" stroke="#222" stroke-width="1.0" />
<text transform="translate(313.3,200.30) rotate(-90)" font-size="4.8" fill="#444" textLength="45.10" lengthAdjust="spacingAndGlyphs" style="stroke-width:0.05px">Cell number (x10<tspan dy="-1.6" font-size="3.2">6</tspan><tspan dy="1.6">)</tspan></text>
<text x="376.40" y="185.00" font-size="9.40" font-weight="normal" fill="#222" textLength="13.10" lengthAdjust="spacingAndGlyphs"  style="stroke-width:0.24px">BM</text>
<line x1="324.60" y1="219.40" x2="324.60" y2="288.80" stroke="#444" stroke-width="0.9" />
<line x1="324.60" y1="288.80" x2="376.00" y2="288.80" stroke="#444" stroke-width="0.9" />
<line x1="323.10" y1="288.80" x2="324.60" y2="288.80" stroke="#444" stroke-width="0.7" />
<text x="322.80" y="290.30" font-size="4.40" fill="#444" text-anchor="end" style="stroke-width:0.05px">0</text>
<line x1="323.10" y1="265.67" x2="324.60" y2="265.67" stroke="#444" stroke-width="0.7" />
<text x="322.80" y="267.17" font-size="4.40" fill="#444" text-anchor="end" style="stroke-width:0.05px">5</text>
<line x1="323.10" y1="242.53" x2="324.60" y2="242.53" stroke="#444" stroke-width="0.7" />
<text x="322.80" y="244.03" font-size="4.40" fill="#444" text-anchor="end" style="stroke-width:0.05px">10</text>
<line x1="323.10" y1="219.40" x2="324.60" y2="219.40" stroke="#444" stroke-width="0.7" />
<text x="322.80" y="220.90" font-size="4.40" fill="#444" text-anchor="end" style="stroke-width:0.05px">15</text>
<line x1="332.70" y1="284.40" x2="332.70" y2="283.30" stroke="#222" stroke-width="1.0" />
<line x1="329.80" y1="283.30" x2="335.60" y2="283.30" stroke="#222" stroke-width="1.0" />
<rect x="327.40" y="284.90" width="10.60" height="3.90" fill="#fff" stroke="#222" stroke-width="1.0" />
<line x1="350.20" y1="270.90" x2="350.20" y2="264.50" stroke="#222" stroke-width="1.0" />
<line x1="347.35" y1="264.50" x2="353.05" y2="264.50" stroke="#222" stroke-width="1.0" />
<rect x="345.00" y="271.40" width="10.40" height="17.40" fill="#9a9a9a" stroke="#222" stroke-width="1.0" />
<line x1="367.15" y1="240.10" x2="367.15" y2="228.20" stroke="#222" stroke-width="1.0" />
<line x1="364.17" y1="228.20" x2="370.12" y2="228.20" stroke="#222" stroke-width="1.0" />
<rect x="361.70" y="240.60" width="10.90" height="48.20" fill="#1e1e1e" stroke="#222" stroke-width="1.0" />
<polyline points="348.90,226.40 348.90,223.10 368.30,223.10 368.30,226.40" fill="none" stroke="#333" stroke-width="0.9" stroke-linejoin="round" />
<line x1="356.30" y1="218.00" x2="356.30" y2="221.60" stroke="#222" stroke-width="1.0" />
<line x1="354.74" y1="218.90" x2="357.86" y2="220.70" stroke="#222" stroke-width="1.0" />
<line x1="357.86" y1="218.90" x2="354.74" y2="220.70" stroke="#222" stroke-width="1.0" />
<line x1="361.30" y1="218.00" x2="361.30" y2="221.60" stroke="#222" stroke-width="1.0" />
<line x1="359.74" y1="218.90" x2="362.86" y2="220.70" stroke="#222" stroke-width="1.0" />
<line x1="362.86" y1="218.90" x2="359.74" y2="220.70" stroke="#222" stroke-width="1.0" />
<text transform="translate(313.3,269.40) rotate(-90)" font-size="4.8" fill="#444" textLength="39.70" lengthAdjust="spacingAndGlyphs" style="stroke-width:0.05px">Cell number (x10<tspan dy="-1.6" font-size="3.2">6</tspan><tspan dy="1.6">)</tspan></text>
<text x="375.30" y="258.50" font-size="9.40" font-weight="normal" fill="#222" textLength="16.70" lengthAdjust="spacingAndGlyphs"  style="stroke-width:0.24px">SPL</text>
<text x="408.10" y="127.30" font-size="11.20" font-weight="bold" fill="#111" textLength="8.10" lengthAdjust="spacingAndGlyphs"  style="stroke-width:0.24px">G</text>
<text transform="translate(426.50,156.80) rotate(-35)" font-size="8.6" fill="#333" textLength="27.5" lengthAdjust="spacingAndGlyphs" style="stroke-width:0.16px">control</text>
<text transform="translate(451.50,157.50) rotate(-35)" font-size="8.6" fill="#333" textLength="35.0" lengthAdjust="spacingAndGlyphs" style="stroke-width:0.16px">WT to WT</text>
<text transform="translate(477.00,157.50) rotate(-35)" font-size="8.6" fill="#333" textLength="48.0" lengthAdjust="spacingAndGlyphs" style="stroke-width:0.16px">Msr1<tspan dy="-2.8" font-size="5">-/-</tspan><tspan dy="2.8"> to WT</tspan></text>
<text x="492.40" y="185.10" font-size="9.20" font-weight="normal" fill="#333" textLength="18.80" lengthAdjust="spacingAndGlyphs"  style="stroke-width:0.24px">Lung</text>
<text x="491.70" y="240.50" font-size="9.00" font-weight="normal" fill="#333" textLength="24.90" lengthAdjust="spacingAndGlyphs"  style="stroke-width:0.24px">Spleen</text>
<g clip-path="url(#og1)">
<g filter="url(#b1)">
<path d="M428.5,170.5 C434,171 439.5,180 439,188 C438.5,196 433,201.5 428,201.8 C424,202 423,196 423.3,190 C423.6,183 425,171 428.5,170.5 Z" fill="url(#lc)"/>
<rect x="421.0" y="168.5" width="20.50" height="35.50" fill="#000" filter="url(#n2)" opacity="0.9"/>
<rect x="421.0" y="168.5" width="20.50" height="35.50" fill="#000" filter="url(#n3)" opacity="0.6"/>
</g></g>
<g clip-path="url(#og2)">
<g filter="url(#b4)">
<path d="M445.5,168.6 C452,168.3 461,178 461,188 C461,197 454,203.5 446.5,203.2 C443,203 442.6,199 443,194 C443.5,190 444.5,186 443.3,180 C442.5,174 442.5,169 445.5,168.6 Z" fill="url(#lw)"/>
<rect x="440.5" y="166.3" width="22.50" height="39.20" fill="#000" filter="url(#n5)" opacity="0.8"/>
<path d="M446,197 C450,191 455,192 457,197 C454,201 449,201 446,197 Z" fill="#f5a85a" opacity="0.8"/>
</g></g>
<g clip-path="url(#og3)">
<g filter="url(#b6)">
<path d="M468,167 C474,165.5 480,172 483.5,180 C487,188 487,197 481,201.5 C476,204 471,202 469,196 C467.5,191 468,186 466,180 C464,174 464,168.5 468,167 Z" fill="url(#lm)"/>
<rect x="462.0" y="163.5" width="27.00" height="42.50" fill="#000" filter="url(#n7)" opacity="0.7"/>
<rect x="462.0" y="163.5" width="27.00" height="42.50" fill="#000" filter="url(#n8)" opacity="0.8"/>
</g></g>
<g clip-path="url(#os1)">
<g filter="url(#b9)">
<path d="M432.5,214.2 C436.5,216 438.8,223 438.2,229 C437.5,235 432,239.5 428.3,240 C427,239 428.8,236 430,232 C431.5,227 431.2,220 431,216.5 C431,215 431.5,214.2 432.5,214.2 Z" fill="url(#sc)"/>
<path d="M433.5,221 C434.5,226 434,231 432.5,234" stroke="#a08090" stroke-width="0.9" fill="none"/>
</g></g>
<g clip-path="url(#os2)">
<g filter="url(#b10)">
<path d="M455.5,210 C458.5,210 460,212 459.8,216 C459.5,224 458,234 455.5,240 C453.5,245 450,247.5 447.5,247 C446.5,245 448.5,238 448.5,230 C448.5,222 448,215 451,212 C452.5,210.6 454,210 455.5,210 Z" fill="url(#sw)"/>
<rect x="444.5" y="208.0" width="17.50" height="41.50" fill="#000" filter="url(#n11)" opacity="0.8"/>
</g></g>
<g clip-path="url(#os3)">
<g filter="url(#b12)">
<path d="M473,205.6 C478,205.6 483,212 485.5,220 C487.5,227 486,240 484.5,248 C483.5,254 480,257.6 476,257.6 C471.5,257.6 470,254 469.8,246 C469.5,236 469.5,222 469.8,213 C470,208 471,205.6 473,205.6 Z" fill="url(#sm)"/>
<rect x="467.5" y="203.6" width="22.00" height="56.00" fill="#000" filter="url(#n13)" opacity="0.8"/>
<path d="M476.5,221 C478,227 477.8,234 476.5,240" stroke="#e0ccd4" stroke-width="1.3" fill="none"/><ellipse cx="476" cy="250.5" rx="1.8" ry="1.4" fill="#eed8de"/><path d="M471,252 C475,256 480,256 484,251 L486,258 L470,258 Z" fill="#a84050" opacity="0.7"/>
</g></g>
<text x="2.00" y="320.80" font-size="11.20" font-weight="bold" fill="#111" textLength="6.90" lengthAdjust="spacingAndGlyphs"  style="stroke-width:0.24px">H</text>
<text x="134.70" y="307.80" font-size="11.70" font-weight="normal" fill="#222" textLength="25.40" lengthAdjust="spacingAndGlyphs"  style="stroke-width:0.24px">Lung</text>
<text x="324.80" y="308.50" font-size="11.90" font-weight="normal" fill="#222" textLength="34.10" lengthAdjust="spacingAndGlyphs"  style="stroke-width:0.24px">Spleen</text>
<line x1="75.00" y1="313.00" x2="241.40" y2="313.00" stroke="#111" stroke-width="2.2" />
<line x1="260.00" y1="313.00" x2="419.90" y2="313.00" stroke="#111" stroke-width="2.2" />
<text x="74.80" y="328.00" font-size="11.20" font-weight="normal" fill="#222" textLength="33.20" lengthAdjust="spacingAndGlyphs"  style="stroke-width:0.24px">Control</text>
<text x="135.80" y="327.90" font-size="10.70" font-weight="normal" fill="#222" textLength="41.50" lengthAdjust="spacingAndGlyphs"  style="stroke-width:0.24px">WT to WT</text>
<text x="189.7" y="328.2" font-size="10.7" fill="#222" textLength="57.2" lengthAdjust="spacingAndGlyphs" style="stroke-width:0.24px">Msr1<tspan dy="-4.2" font-size="6">-/-</tspan><tspan dy="4.2"> to WT</tspan></text>
<text x="258.50" y="328.10" font-size="11.20" font-weight="normal" fill="#222" textLength="32.70" lengthAdjust="spacingAndGlyphs"  style="stroke-width:0.24px">Control</text>
<text x="319.40" y="328.10" font-size="10.70" font-weight="normal" fill="#222" textLength="42.00" lengthAdjust="spacingAndGlyphs"  style="stroke-width:0.24px">WT to WT</text>
<text x="372.1" y="328.3" font-size="10.7" fill="#222" textLength="58.1" lengthAdjust="spacingAndGlyphs" style="stroke-width:0.24px">Msr1<tspan dy="-4.2" font-size="6">-/-</tspan><tspan dy="4.2"> to WT</tspan></text>
<text x="37.60" y="365.80" font-size="11.90" font-weight="normal" fill="#222" textLength="19.60" lengthAdjust="spacingAndGlyphs"  style="stroke-width:0.24px">10 x</text>
<text x="36.30" y="419.00" font-size="11.60" font-weight="normal" fill="#222" textLength="20.80" lengthAdjust="spacingAndGlyphs"  style="stroke-width:0.24px">40 x</text>
<g clip-path="url(#c14)">
<g filter="url(#b15)">
<rect x="67.00" y="332.40" width="60.20" height="59.60" fill="#f3e8d2" stroke="none" stroke-width="1" />
<rect x="67.0" y="332.4" width="60.20" height="59.60" fill="#000" filter="url(#n16)" opacity="0.5"/>
<rect x="67.0" y="332.4" width="60.20" height="59.60" fill="#000" filter="url(#n17)" opacity="0.85"/>
<g fill="none" stroke="#b03848" stroke-width="1.2"><circle cx="81.8" cy="343.7" r="4.8"/><circle cx="72.5" cy="346" r="3.7"/><circle cx="124.8" cy="381.5" r="4.8"/></g>
<path d="M68,349 C69,355 68.5,362 68,370" stroke="#c06070" stroke-width="0.9" fill="none"/>
<circle cx="115" cy="374" r="0.9" fill="#7a4a3a"/>
</g></g>
<g clip-path="url(#c18)">
<g filter="url(#b19)">
<rect x="128.40" y="332.40" width="60.00" height="59.60" fill="#b44e5e" stroke="none" stroke-width="1" />
<rect x="128.4" y="332.4" width="60.00" height="59.60" fill="#000" filter="url(#n20)" opacity="1.0"/>
<rect x="128.4" y="332.4" width="60.00" height="59.60" fill="#000" filter="url(#n21)" opacity="0.5"/>
<rect x="128.4" y="332.4" width="60.00" height="59.60" fill="url(#g_lw10)"/>
</g></g>
<g clip-path="url(#c22)">
<g filter="url(#b23)">
<rect x="189.50" y="332.40" width="61.00" height="59.60" fill="#82543e" stroke="none" stroke-width="1" />
<rect x="189.5" y="332.4" width="61.00" height="59.60" fill="url(#g_lm10o)"/>
<rect x="189.5" y="332.4" width="61.00" height="59.60" fill="url(#g_lm10r)"/>
<rect x="189.5" y="332.4" width="61.00" height="59.60" fill="url(#g_lm10t)"/>
<rect x="189.5" y="332.4" width="61.00" height="59.60" fill="#000" filter="url(#n24)" opacity="0.4"/>
<rect x="189.5" y="332.4" width="61.00" height="59.60" fill="#000" filter="url(#n25)" opacity="0.35"/>
<circle cx="192" cy="334" r="3" fill="#4a8a80" opacity="0.7"/>
<ellipse cx="244.5" cy="340" rx="3" ry="5" fill="#70c0a4" opacity="0.7"/><ellipse cx="246.5" cy="352" rx="2.4" ry="4" fill="#72bca0" opacity="0.6"/><circle cx="240" cy="388" r="1.6" fill="#b0d0b8" opacity="0.6"/>
</g></g>
<g clip-path="url(#c26)">
<g filter="url(#b27)">
<rect x="67.00" y="393.60" width="60.20" height="58.60" fill="#c0caa0" stroke="none" stroke-width="1" />
<rect x="67.0" y="393.6" width="60.20" height="58.60" fill="#000" filter="url(#n28)" opacity="0.6"/>
<rect x="67.0" y="393.6" width="60.20" height="58.60" fill="#000" filter="url(#n29)" opacity="0.9"/>
<rect x="67.0" y="393.6" width="60.20" height="58.60" fill="#000" filter="url(#n30)" opacity="1.0"/>
</g></g>
<g clip-path="url(#c31)">
<g filter="url(#b32)">
<rect x="128.40" y="393.60" width="60.00" height="58.60" fill="#cc566c" stroke="none" stroke-width="1" />
<rect x="128.4" y="393.6" width="60.00" height="58.60" fill="#000" filter="url(#n33)" opacity="1.0"/>
<rect x="128.4" y="393.6" width="60.00" height="58.60" fill="#000" filter="url(#n34)" opacity="0.9"/>
<rect x="128.4" y="393.6" width="60.00" height="58.60" fill="#000" filter="url(#n35)" opacity="0.45"/>
<path d="M146,452 C148,444 153,437 160,434 C166,437 170,445 171,452 Z" fill="#b4c2c6" opacity="0.9"/>
</g></g>
<g clip-path="url(#c36)">
<g filter="url(#b37)">
<rect x="189.50" y="393.60" width="61.00" height="58.60" fill="#7c7494" stroke="none" stroke-width="1" />
<rect x="189.5" y="393.6" width="61.00" height="58.60" fill="#000" filter="url(#n38)" opacity="0.75"/>
<rect x="189.5" y="393.6" width="61.00" height="58.60" fill="#000" filter="url(#n39)" opacity="0.6"/>
<rect x="189.5" y="393.6" width="61.00" height="58.60" fill="#000" filter="url(#n40)" opacity="0.45"/>
<rect x="189.5" y="393.6" width="61.00" height="58.60" fill="#000" filter="url(#n41)" opacity="0.35"/>
<rect x="189.5" y="393.6" width="61.00" height="58.60" fill="#000" filter="url(#n42)" opacity="0.85"/>
<rect x="189.5" y="393.6" width="61.00" height="58.60" fill="#000" filter="url(#n43)" opacity="0.7"/>
</g></g>
<g clip-path="url(#c44)">
<g filter="url(#b45)">
<rect x="253.80" y="332.40" width="58.00" height="59.60" fill="#c4869a" stroke="none" stroke-width="1" />
<path d="M253,392 L253,368 C262,366 272,360 282,354 C292,348 302,344 312,342 L312,362 C302,366 294,374 286,382 C280,388 272,392 266,392 Z" fill="#d8a0a2" opacity="0.6"/>
<path d="M266,370 C274,358 286,352 298,348 L300,356 C290,360 282,366 276,374 Z" fill="#e0aaae" opacity="0.4"/>
<rect x="253.8" y="332.4" width="58.00" height="59.60" fill="url(#g_sc10b)"/>
<rect x="253.8" y="332.4" width="58.00" height="59.60" fill="#000" filter="url(#n46)" opacity="0.35"/>
</g>
<g filter="url(#b47)">
<rect x="253.8" y="332.4" width="58.00" height="59.60" fill="#000" filter="url(#n48)" opacity="0.45"/>
<rect x="253.8" y="332.4" width="58.00" height="59.60" fill="#000" filter="url(#n49)" opacity="0.35"/>
</g>
<ellipse cx="258" cy="384" rx="3" ry="2.2" fill="#f4e0d4" opacity="0.8"/><ellipse cx="256" cy="371" rx="2.2" ry="1.3" fill="#f0d0c8" opacity="0.6"/>
</g>
<g clip-path="url(#c50)">
<g filter="url(#b51)">
<rect x="313.00" y="332.40" width="57.30" height="59.60" fill="#7b7a7e" stroke="none" stroke-width="1" />
<rect x="313.0" y="332.4" width="57.30" height="59.60" fill="url(#g_sw10)"/>
<rect x="313.0" y="332.4" width="57.30" height="59.60" fill="#000" filter="url(#n52)" opacity="0.4"/>
<rect x="313.0" y="332.4" width="57.30" height="59.60" fill="#000" filter="url(#n53)" opacity="0.5"/>
<rect x="313.0" y="332.4" width="57.30" height="59.60" fill="#000" filter="url(#n54)" opacity="0.4"/>
<ellipse cx="345" cy="361" rx="7" ry="2.2" fill="#80aaa0" opacity="0.4"/>
</g></g>
<g clip-path="url(#c55)">
<g filter="url(#b56)">
<rect x="372.00" y="332.40" width="58.30" height="59.60" fill="#5e5551" stroke="none" stroke-width="1" />
<rect x="372.0" y="332.4" width="58.30" height="59.60" fill="url(#g_sm10)"/>
<rect x="372.0" y="332.4" width="58.30" height="59.60" fill="#000" filter="url(#n57)" opacity="0.5"/>
<rect x="372.0" y="332.4" width="58.30" height="59.60" fill="#000" filter="url(#n58)" opacity="0.45"/>
</g></g>
<g clip-path="url(#c59)">
<g filter="url(#b60)">
<rect x="253.80" y="393.60" width="58.00" height="58.60" fill="#5c3a4a" stroke="none" stroke-width="1" />
<rect x="253.8" y="393.6" width="58.00" height="58.60" fill="#000" filter="url(#n61)" opacity="0.55"/>
<rect x="253.8" y="393.6" width="58.00" height="58.60" fill="#000" filter="url(#n62)" opacity="0.5"/>
</g></g>
<g clip-path="url(#c63)">
<g filter="url(#b64)">
<rect x="313.00" y="393.60" width="57.30" height="58.60" fill="#6a6274" stroke="none" stroke-width="1" />
<rect x="313.0" y="393.6" width="57.30" height="58.60" fill="#000" filter="url(#n65)" opacity="0.45"/>
<rect x="313.0" y="393.6" width="57.30" height="58.60" fill="#000" filter="url(#n66)" opacity="0.85"/>
<rect x="313.0" y="393.6" width="57.30" height="58.60" fill="#000" filter="url(#n67)" opacity="0.45"/>
</g></g>
<g clip-path="url(#c68)">
<g filter="url(#b69)">
<rect x="372.00" y="393.60" width="58.30" height="58.60" fill="#6c4a5c" stroke="none" stroke-width="1" />
<rect x="372.0" y="393.6" width="58.30" height="58.60" fill="#000" filter="url(#n70)" opacity="0.45"/>
</g>
<g filter="url(#b71)">
<path d="M377,434 C384,430 392,424 400,423 C408,422 416,421 424,418 M406,422 C410,414 414,408 418,404" stroke="#8a9aa0" stroke-width="3" fill="none" opacity="0.45"/>
</g>
<g filter="url(#b72)">
<rect x="372.0" y="393.6" width="58.30" height="58.60" fill="#000" filter="url(#n73)" opacity="0.5"/>
<rect x="372.0" y="393.6" width="58.30" height="58.60" fill="#000" filter="url(#n74)" opacity="0.4"/>
</g></g>
</svg></body></html>
